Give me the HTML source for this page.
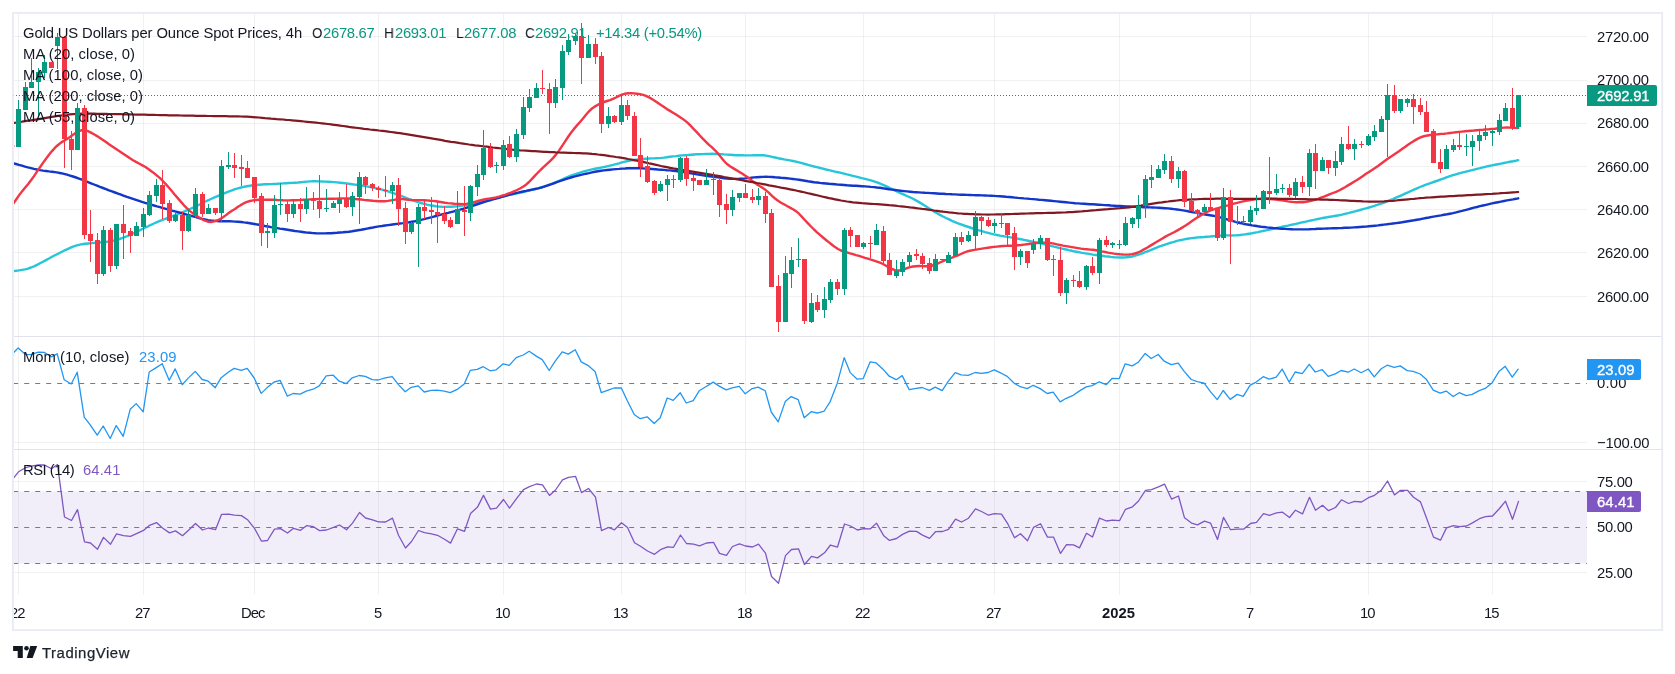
<!DOCTYPE html>
<html><head><meta charset="utf-8"><title>Gold chart</title>
<style>
html,body{margin:0;padding:0;background:#fff;}
body{width:1675px;height:674px;position:relative;overflow:hidden;font-family:"Liberation Sans", sans-serif;}
svg{position:absolute;left:0;top:0;}
.t{position:absolute;white-space:nowrap;line-height:20px;font-family:"Liberation Sans", sans-serif;will-change:transform;}
.clip{position:absolute;left:14px;top:596px;width:1573px;height:32px;overflow:hidden;}
.clip .t{margin-left:-14px;margin-top:-596px;}
.lb{position:absolute;border-radius:0 2px 2px 0;}
</style></head><body>
<svg width="1675" height="674" viewBox="0 0 1675 674">
<defs>
<clipPath id="cpm"><rect x="14" y="14" width="1573" height="322"/></clipPath>
<clipPath id="cp2"><rect x="14" y="337" width="1573" height="112"/></clipPath>
<clipPath id="cp3"><rect x="14" y="450" width="1573" height="144"/></clipPath>
</defs>
<rect x="14" y="36" width="1573" height="1" fill="rgba(42,46,57,0.065)"/>
<rect x="14" y="80" width="1573" height="1" fill="rgba(42,46,57,0.065)"/>
<rect x="14" y="123" width="1573" height="1" fill="rgba(42,46,57,0.065)"/>
<rect x="14" y="166" width="1573" height="1" fill="rgba(42,46,57,0.065)"/>
<rect x="14" y="209" width="1573" height="1" fill="rgba(42,46,57,0.065)"/>
<rect x="14" y="252" width="1573" height="1" fill="rgba(42,46,57,0.065)"/>
<rect x="14" y="296" width="1573" height="1" fill="rgba(42,46,57,0.065)"/>
<rect x="14" y="442" width="1573" height="1" fill="rgba(42,46,57,0.065)"/>
<rect x="14" y="481" width="1573" height="1" fill="rgba(42,46,57,0.065)"/>
<rect x="14" y="572" width="1573" height="1" fill="rgba(42,46,57,0.065)"/>
<rect x="18" y="14" width="1" height="580.5" fill="rgba(42,46,57,0.065)"/>
<rect x="143" y="14" width="1" height="580.5" fill="rgba(42,46,57,0.065)"/>
<rect x="254" y="14" width="1" height="580.5" fill="rgba(42,46,57,0.065)"/>
<rect x="378" y="14" width="1" height="580.5" fill="rgba(42,46,57,0.065)"/>
<rect x="503" y="14" width="1" height="580.5" fill="rgba(42,46,57,0.065)"/>
<rect x="621" y="14" width="1" height="580.5" fill="rgba(42,46,57,0.065)"/>
<rect x="745" y="14" width="1" height="580.5" fill="rgba(42,46,57,0.065)"/>
<rect x="863" y="14" width="1" height="580.5" fill="rgba(42,46,57,0.065)"/>
<rect x="994" y="14" width="1" height="580.5" fill="rgba(42,46,57,0.065)"/>
<rect x="1119" y="14" width="1" height="580.5" fill="rgba(42,46,57,0.065)"/>
<rect x="1250" y="14" width="1" height="580.5" fill="rgba(42,46,57,0.065)"/>
<rect x="1368" y="14" width="1" height="580.5" fill="rgba(42,46,57,0.065)"/>
<rect x="1492" y="14" width="1" height="580.5" fill="rgba(42,46,57,0.065)"/>
<rect x="14" y="491.5" width="1573" height="72" fill="#7e57c2" fill-opacity="0.1"/>
<line x1="14" y1="383.5" x2="1587" y2="383.5" stroke="#787b86" stroke-width="1" stroke-dasharray="5 6" stroke-dashoffset="0.8"/>
<line x1="14" y1="491.5" x2="1587" y2="491.5" stroke="#787b86" stroke-width="1" stroke-dasharray="5 6" stroke-dashoffset="0.8"/>
<line x1="14" y1="527.5" x2="1587" y2="527.5" stroke="#787b86" stroke-width="1" stroke-dasharray="5 6" stroke-dashoffset="0.8"/>
<line x1="14" y1="563.5" x2="1587" y2="563.5" stroke="#787b86" stroke-width="1" stroke-dasharray="5 6" stroke-dashoffset="0.8"/>
<line x1="13" y1="95.5" x2="1587" y2="95.5" stroke="#089981" stroke-width="1" stroke-dasharray="1 2"/>
<g clip-path="url(#cpm)">
<polyline points="13.0,271.1 16.0,270.8 19.0,270.4 22.0,269.9 25.0,269.4 28.0,268.6 31.0,267.5 34.0,266.3 37.0,264.9 40.0,263.3 43.0,261.7 46.0,260.1 49.0,258.5 52.0,256.8 55.0,255.2 58.0,253.7 61.0,252.2 64.0,250.7 67.0,249.3 70.0,247.9 73.0,246.7 76.0,245.7 79.0,244.9 82.0,244.2 85.0,243.8 88.0,243.5 91.0,243.2 94.0,242.9 97.0,242.7 100.0,242.5 103.0,242.2 106.0,241.9 109.0,241.5 112.0,241.0 115.0,240.3 118.0,239.5 121.0,238.5 124.0,237.3 127.0,236.1 130.0,234.8 133.0,233.5 136.0,232.1 139.0,230.6 142.0,229.2 145.0,227.7 148.0,226.3 151.0,224.8 154.0,223.5 157.0,222.2 160.0,220.9 163.0,219.7 166.0,218.6 169.0,217.5 172.0,216.3 175.0,215.2 178.0,214.0 181.0,212.8 184.0,211.6 187.0,210.4 190.0,209.0 193.0,207.7 196.0,206.2 199.0,204.8 202.0,203.3 205.0,201.8 208.0,200.3 211.0,199.0 214.0,197.7 217.0,196.4 220.0,195.2 223.0,193.9 226.0,192.6 229.0,191.4 232.0,190.3 235.0,189.2 238.0,188.3 241.0,187.5 244.0,186.8 247.0,186.2 250.0,185.7 253.0,185.3 256.0,185.0 259.0,184.7 262.0,184.5 265.0,184.3 268.0,184.2 271.0,184.1 274.0,183.9 277.0,183.8 280.0,183.6 283.0,183.4 286.0,183.2 289.0,183.0 292.0,182.9 295.0,182.7 298.0,182.5 301.0,182.2 304.0,181.9 307.0,181.6 310.0,181.4 313.0,181.3 316.0,181.3 319.0,181.4 322.0,181.5 325.0,181.6 328.0,181.7 331.0,181.9 334.0,182.1 337.0,182.4 340.0,182.7 343.0,183.0 346.0,183.4 349.0,183.8 352.0,184.2 355.0,184.6 358.0,185.0 361.0,185.5 364.0,185.9 367.0,186.4 370.0,187.0 373.0,187.6 376.0,188.2 379.0,188.8 382.0,189.6 385.0,190.5 388.0,191.4 391.0,192.4 394.0,193.4 397.0,194.5 400.0,195.6 403.0,196.7 406.0,197.9 409.0,199.1 412.0,200.2 415.0,201.2 418.0,202.1 421.0,203.0 424.0,203.8 427.0,204.6 430.0,205.3 433.0,205.8 436.0,206.3 439.0,206.6 442.0,206.8 445.0,206.9 448.0,206.8 451.0,206.7 454.0,206.5 457.0,206.3 460.0,205.9 463.0,205.6 466.0,205.1 469.0,204.5 472.0,203.9 475.0,203.2 478.0,202.4 481.0,201.6 484.0,200.9 487.0,200.2 490.0,199.6 493.0,198.9 496.0,198.2 499.0,197.4 502.0,196.6 505.0,195.9 508.0,195.2 511.0,194.5 514.0,194.0 517.0,193.4 520.0,192.8 523.0,192.1 526.0,191.4 529.0,190.7 532.0,189.9 535.0,189.1 538.0,188.4 541.0,187.5 544.0,186.6 547.0,185.6 550.0,184.5 553.0,183.3 556.0,182.0 559.0,180.8 562.0,179.5 565.0,178.2 568.0,176.9 571.0,175.7 574.0,174.6 577.0,173.6 580.0,172.6 583.0,171.7 586.0,170.9 589.0,170.1 592.0,169.4 595.0,168.8 598.0,168.2 601.0,167.6 604.0,167.0 607.0,166.3 610.0,165.6 613.0,164.9 616.0,164.1 619.0,163.3 622.0,162.4 625.0,161.7 628.0,161.0 631.0,160.4 634.0,160.0 637.0,159.6 640.0,159.2 643.0,159.0 646.0,158.7 649.0,158.5 652.0,158.4 655.0,158.3 658.0,158.1 661.0,157.9 664.0,157.6 667.0,157.2 670.0,156.8 673.0,156.4 676.0,156.1 679.0,155.7 682.0,155.4 685.0,155.2 688.0,155.0 691.0,154.7 694.0,154.5 697.0,154.3 700.0,154.2 703.0,154.1 706.0,154.0 709.0,153.9 712.0,153.8 715.0,153.9 718.0,154.0 721.0,154.1 724.0,154.4 727.0,154.6 730.0,154.8 733.0,155.0 736.0,155.2 739.0,155.3 742.0,155.3 745.0,155.4 748.0,155.4 751.0,155.4 754.0,155.3 757.0,155.2 760.0,155.2 763.0,155.3 766.0,155.6 769.0,156.1 772.0,156.8 775.0,157.5 778.0,158.2 781.0,158.8 784.0,159.4 787.0,159.9 790.0,160.4 793.0,161.0 796.0,161.6 799.0,162.3 802.0,163.1 805.0,164.0 808.0,164.8 811.0,165.7 814.0,166.5 817.0,167.2 820.0,168.0 823.0,168.7 826.0,169.5 829.0,170.2 832.0,170.9 835.0,171.6 838.0,172.2 841.0,172.9 844.0,173.6 847.0,174.4 850.0,175.1 853.0,175.9 856.0,176.6 859.0,177.4 862.0,178.2 865.0,178.9 868.0,179.7 871.0,180.4 874.0,181.3 877.0,182.4 880.0,183.5 883.0,184.8 886.0,186.2 889.0,187.6 892.0,189.0 895.0,190.5 898.0,191.9 901.0,193.3 904.0,194.6 907.0,196.0 910.0,197.3 913.0,198.8 916.0,200.4 919.0,202.1 922.0,203.9 925.0,205.8 928.0,207.7 931.0,209.6 934.0,211.5 937.0,213.2 940.0,214.9 943.0,216.5 946.0,218.0 949.0,219.4 952.0,220.8 955.0,222.1 958.0,223.3 961.0,224.4 964.0,225.5 967.0,226.5 970.0,227.5 973.0,228.5 976.0,229.4 979.0,230.3 982.0,231.2 985.0,232.1 988.0,232.9 991.0,233.7 994.0,234.4 997.0,235.0 1000.0,235.6 1003.0,236.1 1006.0,236.6 1009.0,237.1 1012.0,237.6 1015.0,238.2 1018.0,238.7 1021.0,239.3 1024.0,239.9 1027.0,240.5 1030.0,241.1 1033.0,241.7 1036.0,242.4 1039.0,243.0 1042.0,243.7 1045.0,244.4 1048.0,245.1 1051.0,245.8 1054.0,246.6 1057.0,247.3 1060.0,248.1 1063.0,248.8 1066.0,249.5 1069.0,250.2 1072.0,250.8 1075.0,251.5 1078.0,252.0 1081.0,252.6 1084.0,253.1 1087.0,253.6 1090.0,254.1 1093.0,254.6 1096.0,255.0 1099.0,255.4 1102.0,255.8 1105.0,256.2 1108.0,256.5 1111.0,256.9 1114.0,257.2 1117.0,257.4 1120.0,257.5 1123.0,257.5 1126.0,257.3 1129.0,257.0 1132.0,256.5 1135.0,255.7 1138.0,254.8 1141.0,253.8 1144.0,252.7 1147.0,251.5 1150.0,250.4 1153.0,249.1 1156.0,247.9 1159.0,246.7 1162.0,245.6 1165.0,244.6 1168.0,243.6 1171.0,242.6 1174.0,241.8 1177.0,240.9 1180.0,240.2 1183.0,239.6 1186.0,239.0 1189.0,238.5 1192.0,238.1 1195.0,237.8 1198.0,237.4 1201.0,237.2 1204.0,237.0 1207.0,236.7 1210.0,236.5 1213.0,236.2 1216.0,235.9 1219.0,235.6 1222.0,235.5 1225.0,235.4 1228.0,235.4 1231.0,235.5 1234.0,235.4 1237.0,235.3 1240.0,235.0 1243.0,234.6 1246.0,234.2 1249.0,233.7 1252.0,233.2 1255.0,232.6 1258.0,232.1 1261.0,231.4 1264.0,230.8 1267.0,230.1 1270.0,229.5 1273.0,228.8 1276.0,228.1 1279.0,227.5 1282.0,226.8 1285.0,226.2 1288.0,225.6 1291.0,224.9 1294.0,224.3 1297.0,223.6 1300.0,222.9 1303.0,222.2 1306.0,221.6 1309.0,220.9 1312.0,220.3 1315.0,219.6 1318.0,219.0 1321.0,218.4 1324.0,217.8 1327.0,217.3 1330.0,216.7 1333.0,216.3 1336.0,215.7 1339.0,215.2 1342.0,214.6 1345.0,213.9 1348.0,213.2 1351.0,212.4 1354.0,211.6 1357.0,210.8 1360.0,210.0 1363.0,209.2 1366.0,208.4 1369.0,207.5 1372.0,206.6 1375.0,205.7 1378.0,204.7 1381.0,203.6 1384.0,202.5 1387.0,201.4 1390.0,200.2 1393.0,199.0 1396.0,197.7 1399.0,196.4 1402.0,195.1 1405.0,193.7 1408.0,192.4 1411.0,191.0 1414.0,189.6 1417.0,188.3 1420.0,187.0 1423.0,185.8 1426.0,184.7 1429.0,183.7 1432.0,182.6 1435.0,181.5 1438.0,180.5 1441.0,179.4 1444.0,178.3 1447.0,177.2 1450.0,176.2 1453.0,175.2 1456.0,174.3 1459.0,173.4 1462.0,172.6 1465.0,171.9 1468.0,171.1 1471.0,170.3 1474.0,169.6 1477.0,168.8 1480.0,168.1 1483.0,167.3 1486.0,166.6 1489.0,166.0 1492.0,165.4 1495.0,164.8 1498.0,164.2 1501.0,163.6 1504.0,163.0 1507.0,162.4 1510.0,161.8 1513.0,161.3 1516.0,160.7 1518.2,160.2" fill="none" stroke="#26c6da" stroke-width="2.4" stroke-linejoin="round" stroke-linecap="round"/>
<polyline points="13.0,163.1 16.0,164.0 19.0,164.9 22.0,165.7 25.0,166.6 28.0,167.4 31.0,168.1 34.0,168.9 37.0,169.5 40.0,170.1 43.0,170.6 46.0,171.0 49.0,171.4 52.0,171.7 55.0,172.1 58.0,172.6 61.0,173.2 64.0,173.9 67.0,174.7 70.0,175.6 73.0,176.5 76.0,177.5 79.0,178.6 82.0,179.7 85.0,180.9 88.0,182.1 91.0,183.3 94.0,184.5 97.0,185.7 100.0,186.9 103.0,188.0 106.0,189.1 109.0,190.3 112.0,191.4 115.0,192.5 118.0,193.6 121.0,194.7 124.0,195.8 127.0,196.9 130.0,197.9 133.0,198.9 136.0,199.9 139.0,200.9 142.0,201.9 145.0,202.8 148.0,203.7 151.0,204.6 154.0,205.5 157.0,206.4 160.0,207.2 163.0,208.1 166.0,208.9 169.0,209.7 172.0,210.6 175.0,211.4 178.0,212.2 181.0,213.0 184.0,213.8 187.0,214.7 190.0,215.5 193.0,216.4 196.0,217.2 199.0,218.1 202.0,218.9 205.0,219.5 208.0,220.1 211.0,220.5 214.0,220.8 217.0,221.0 220.0,221.2 223.0,221.2 226.0,221.3 229.0,221.3 232.0,221.4 235.0,221.6 238.0,221.8 241.0,222.0 244.0,222.4 247.0,222.7 250.0,223.2 253.0,223.7 256.0,224.3 259.0,224.8 262.0,225.4 265.0,226.0 268.0,226.5 271.0,227.1 274.0,227.6 277.0,228.1 280.0,228.6 283.0,229.0 286.0,229.5 289.0,230.0 292.0,230.5 295.0,231.0 298.0,231.4 301.0,231.8 304.0,232.2 307.0,232.6 310.0,232.8 313.0,233.1 316.0,233.3 319.0,233.4 322.0,233.4 325.0,233.4 328.0,233.3 331.0,233.2 334.0,233.0 337.0,232.8 340.0,232.5 343.0,232.3 346.0,232.0 349.0,231.7 352.0,231.3 355.0,230.8 358.0,230.3 361.0,229.8 364.0,229.2 367.0,228.6 370.0,228.0 373.0,227.5 376.0,226.9 379.0,226.4 382.0,226.0 385.0,225.5 388.0,225.1 391.0,224.7 394.0,224.3 397.0,223.9 400.0,223.5 403.0,223.1 406.0,222.6 409.0,222.2 412.0,221.7 415.0,221.2 418.0,220.6 421.0,219.9 424.0,219.2 427.0,218.4 430.0,217.6 433.0,216.8 436.0,216.0 439.0,215.2 442.0,214.4 445.0,213.6 448.0,212.9 451.0,212.1 454.0,211.3 457.0,210.5 460.0,209.7 463.0,208.8 466.0,207.9 469.0,207.0 472.0,206.0 475.0,205.0 478.0,204.0 481.0,203.0 484.0,202.1 487.0,201.2 490.0,200.3 493.0,199.4 496.0,198.6 499.0,197.8 502.0,196.9 505.0,196.1 508.0,195.2 511.0,194.4 514.0,193.6 517.0,192.9 520.0,192.2 523.0,191.5 526.0,190.9 529.0,190.2 532.0,189.6 535.0,189.0 538.0,188.4 541.0,187.6 544.0,186.7 547.0,185.7 550.0,184.7 553.0,183.6 556.0,182.5 559.0,181.3 562.0,180.3 565.0,179.3 568.0,178.4 571.0,177.5 574.0,176.7 577.0,175.9 580.0,175.1 583.0,174.4 586.0,173.7 589.0,173.1 592.0,172.4 595.0,171.8 598.0,171.3 601.0,170.8 604.0,170.4 607.0,170.0 610.0,169.7 613.0,169.4 616.0,169.1 619.0,168.9 622.0,168.6 625.0,168.5 628.0,168.3 631.0,168.2 634.0,168.2 637.0,168.2 640.0,168.3 643.0,168.4 646.0,168.6 649.0,168.8 652.0,169.0 655.0,169.2 658.0,169.5 661.0,169.7 664.0,169.9 667.0,170.2 670.0,170.4 673.0,170.7 676.0,171.1 679.0,171.5 682.0,171.9 685.0,172.4 688.0,172.9 691.0,173.4 694.0,173.9 697.0,174.4 700.0,174.9 703.0,175.4 706.0,175.8 709.0,176.2 712.0,176.6 715.0,177.0 718.0,177.4 721.0,177.8 724.0,178.2 727.0,178.6 730.0,178.8 733.0,178.9 736.0,178.9 739.0,178.8 742.0,178.6 745.0,178.4 748.0,178.1 751.0,177.8 754.0,177.4 757.0,177.2 760.0,177.0 763.0,176.9 766.0,176.8 769.0,176.9 772.0,177.0 775.0,177.3 778.0,177.5 781.0,177.8 784.0,178.0 787.0,178.3 790.0,178.6 793.0,179.0 796.0,179.4 799.0,179.8 802.0,180.3 805.0,180.8 808.0,181.3 811.0,181.7 814.0,182.2 817.0,182.5 820.0,182.9 823.0,183.2 826.0,183.5 829.0,183.8 832.0,184.0 835.0,184.3 838.0,184.6 841.0,184.8 844.0,185.0 847.0,185.3 850.0,185.5 853.0,185.7 856.0,185.8 859.0,186.0 862.0,186.2 865.0,186.4 868.0,186.6 871.0,186.9 874.0,187.1 877.0,187.5 880.0,187.8 883.0,188.3 886.0,188.7 889.0,189.2 892.0,189.6 895.0,190.0 898.0,190.4 901.0,190.8 904.0,191.1 907.0,191.4 910.0,191.7 913.0,192.0 916.0,192.2 919.0,192.4 922.0,192.6 925.0,192.8 928.0,192.9 931.0,193.1 934.0,193.3 937.0,193.5 940.0,193.7 943.0,193.8 946.0,194.0 949.0,194.1 952.0,194.3 955.0,194.4 958.0,194.6 961.0,194.7 964.0,194.8 967.0,194.9 970.0,195.0 973.0,195.1 976.0,195.2 979.0,195.3 982.0,195.4 985.0,195.5 988.0,195.6 991.0,195.7 994.0,195.9 997.0,196.1 1000.0,196.3 1003.0,196.5 1006.0,196.8 1009.0,197.0 1012.0,197.3 1015.0,197.6 1018.0,197.9 1021.0,198.1 1024.0,198.4 1027.0,198.6 1030.0,198.9 1033.0,199.1 1036.0,199.4 1039.0,199.7 1042.0,199.9 1045.0,200.2 1048.0,200.5 1051.0,200.8 1054.0,201.1 1057.0,201.4 1060.0,201.7 1063.0,202.0 1066.0,202.3 1069.0,202.6 1072.0,202.9 1075.0,203.2 1078.0,203.4 1081.0,203.6 1084.0,203.8 1087.0,204.0 1090.0,204.2 1093.0,204.3 1096.0,204.5 1099.0,204.7 1102.0,204.9 1105.0,205.1 1108.0,205.2 1111.0,205.5 1114.0,205.7 1117.0,205.9 1120.0,206.0 1123.0,206.2 1126.0,206.4 1129.0,206.5 1132.0,206.7 1135.0,206.8 1138.0,207.0 1141.0,207.1 1144.0,207.2 1147.0,207.3 1150.0,207.4 1153.0,207.5 1156.0,207.6 1159.0,207.8 1162.0,208.0 1165.0,208.2 1168.0,208.4 1171.0,208.7 1174.0,209.1 1177.0,209.5 1180.0,209.9 1183.0,210.4 1186.0,210.9 1189.0,211.5 1192.0,212.1 1195.0,212.6 1198.0,213.1 1201.0,213.7 1204.0,214.2 1207.0,214.7 1210.0,215.2 1213.0,215.7 1216.0,216.4 1219.0,217.1 1222.0,217.9 1225.0,218.8 1228.0,219.7 1231.0,220.6 1234.0,221.4 1237.0,222.3 1240.0,223.0 1243.0,223.7 1246.0,224.3 1249.0,224.8 1252.0,225.4 1255.0,225.8 1258.0,226.3 1261.0,226.7 1264.0,227.0 1267.0,227.4 1270.0,227.7 1273.0,228.0 1276.0,228.2 1279.0,228.5 1282.0,228.7 1285.0,228.9 1288.0,229.1 1291.0,229.2 1294.0,229.4 1297.0,229.4 1300.0,229.4 1303.0,229.4 1306.0,229.4 1309.0,229.3 1312.0,229.1 1315.0,229.0 1318.0,228.8 1321.0,228.7 1324.0,228.6 1327.0,228.5 1330.0,228.4 1333.0,228.3 1336.0,228.2 1339.0,228.1 1342.0,228.0 1345.0,227.8 1348.0,227.7 1351.0,227.6 1354.0,227.4 1357.0,227.2 1360.0,227.0 1363.0,226.8 1366.0,226.6 1369.0,226.3 1372.0,226.0 1375.0,225.7 1378.0,225.4 1381.0,225.0 1384.0,224.6 1387.0,224.3 1390.0,223.9 1393.0,223.5 1396.0,223.1 1399.0,222.7 1402.0,222.3 1405.0,221.8 1408.0,221.3 1411.0,220.8 1414.0,220.3 1417.0,219.7 1420.0,219.2 1423.0,218.6 1426.0,218.0 1429.0,217.5 1432.0,216.9 1435.0,216.4 1438.0,215.9 1441.0,215.4 1444.0,214.8 1447.0,214.3 1450.0,213.7 1453.0,213.1 1456.0,212.4 1459.0,211.6 1462.0,210.9 1465.0,210.1 1468.0,209.3 1471.0,208.5 1474.0,207.7 1477.0,207.0 1480.0,206.2 1483.0,205.5 1486.0,204.8 1489.0,204.1 1492.0,203.4 1495.0,202.8 1498.0,202.2 1501.0,201.6 1504.0,201.0 1507.0,200.4 1510.0,199.9 1513.0,199.4 1516.0,198.8 1518.2,198.3" fill="none" stroke="#1237c9" stroke-width="2.4" stroke-linejoin="round" stroke-linecap="round"/>
<polyline points="13.0,204.1 16.0,199.8 19.0,195.4 22.0,191.4 25.0,187.7 28.0,184.2 31.0,180.3 34.0,176.1 37.0,171.6 40.0,167.2 43.0,162.9 46.0,158.7 49.0,154.7 52.0,151.1 55.0,147.7 58.0,145.0 61.0,142.6 64.0,140.8 67.0,138.9 70.0,136.9 73.0,134.8 76.0,132.7 79.0,131.1 82.0,130.1 85.0,130.2 88.0,131.1 91.0,132.6 94.0,134.3 97.0,136.1 100.0,138.0 103.0,140.0 106.0,142.1 109.0,144.2 112.0,146.2 115.0,148.2 118.0,150.2 121.0,152.2 124.0,154.2 127.0,156.2 130.0,158.3 133.0,160.2 136.0,161.9 139.0,163.5 142.0,165.1 145.0,166.8 148.0,168.8 151.0,170.9 154.0,173.1 157.0,175.6 160.0,178.2 163.0,181.2 166.0,184.4 169.0,187.8 172.0,191.3 175.0,194.9 178.0,198.4 181.0,201.9 184.0,205.3 187.0,208.4 190.0,211.1 193.0,213.4 196.0,215.5 199.0,217.4 202.0,219.1 205.0,220.7 208.0,221.7 211.0,222.0 214.0,221.4 217.0,220.5 220.0,219.2 223.0,217.3 226.0,215.1 229.0,212.8 232.0,210.8 235.0,208.9 238.0,206.8 241.0,204.9 244.0,203.2 247.0,201.9 250.0,201.0 253.0,200.4 256.0,200.0 259.0,199.8 262.0,199.7 265.0,199.7 268.0,199.7 271.0,199.8 274.0,199.8 277.0,200.0 280.0,200.1 283.0,200.3 286.0,200.4 289.0,200.4 292.0,200.3 295.0,200.2 298.0,200.1 301.0,200.0 304.0,199.8 307.0,199.6 310.0,199.4 313.0,199.2 316.0,199.1 319.0,199.0 322.0,198.9 325.0,198.9 328.0,198.8 331.0,198.8 334.0,198.7 337.0,198.6 340.0,198.5 343.0,198.4 346.0,198.4 349.0,198.5 352.0,198.7 355.0,199.0 358.0,199.2 361.0,199.5 364.0,199.9 367.0,200.2 370.0,200.5 373.0,200.8 376.0,201.0 379.0,201.2 382.0,201.3 385.0,201.2 388.0,200.9 391.0,200.4 394.0,199.9 397.0,199.3 400.0,199.0 403.0,199.1 406.0,199.5 409.0,199.8 412.0,200.0 415.0,200.1 418.0,200.1 421.0,200.1 424.0,200.2 427.0,200.4 430.0,200.7 433.0,200.9 436.0,201.3 439.0,201.7 442.0,202.2 445.0,202.7 448.0,203.1 451.0,203.4 454.0,203.7 457.0,203.9 460.0,204.0 463.0,204.1 466.0,203.9 469.0,203.5 472.0,202.7 475.0,201.8 478.0,201.0 481.0,200.2 484.0,199.5 487.0,198.9 490.0,198.5 493.0,198.0 496.0,197.4 499.0,196.6 502.0,195.7 505.0,194.8 508.0,193.7 511.0,192.6 514.0,191.3 517.0,190.0 520.0,188.5 523.0,186.8 526.0,184.7 529.0,182.0 532.0,178.9 535.0,175.6 538.0,172.5 541.0,169.5 544.0,166.7 547.0,163.9 550.0,161.1 553.0,158.1 556.0,154.6 559.0,150.6 562.0,146.1 565.0,141.6 568.0,137.0 571.0,132.8 574.0,128.9 577.0,125.4 580.0,122.0 583.0,118.4 586.0,114.7 589.0,111.3 592.0,108.5 595.0,106.4 598.0,104.7 601.0,103.3 604.0,102.0 607.0,101.0 610.0,100.1 613.0,98.9 616.0,97.5 619.0,95.9 622.0,94.6 625.0,93.7 628.0,93.3 631.0,93.3 634.0,93.4 637.0,93.7 640.0,94.1 643.0,94.8 646.0,95.9 649.0,97.3 652.0,99.1 655.0,101.0 658.0,103.0 661.0,105.1 664.0,107.1 667.0,109.1 670.0,110.9 673.0,112.7 676.0,114.6 679.0,116.5 682.0,118.4 685.0,120.6 688.0,123.2 691.0,126.2 694.0,129.3 697.0,132.4 700.0,135.7 703.0,138.9 706.0,141.9 709.0,144.8 712.0,147.4 715.0,150.3 718.0,153.6 721.0,157.3 724.0,161.0 727.0,164.0 730.0,166.3 733.0,168.1 736.0,169.9 739.0,171.7 742.0,173.5 745.0,175.4 748.0,177.5 751.0,179.9 754.0,182.2 757.0,184.4 760.0,186.3 763.0,188.1 766.0,190.3 769.0,192.8 772.0,195.8 775.0,198.5 778.0,200.8 781.0,202.7 784.0,204.3 787.0,206.0 790.0,207.6 793.0,209.2 796.0,211.2 799.0,213.7 802.0,216.9 805.0,220.2 808.0,223.4 811.0,226.5 814.0,229.5 817.0,232.3 820.0,234.9 823.0,237.5 826.0,240.0 829.0,242.4 832.0,244.8 835.0,247.1 838.0,249.0 841.0,250.5 844.0,251.5 847.0,252.4 850.0,253.4 853.0,254.2 856.0,255.1 859.0,255.9 862.0,256.8 865.0,257.8 868.0,258.7 871.0,259.7 874.0,260.6 877.0,261.6 880.0,262.7 883.0,264.0 886.0,265.7 889.0,267.4 892.0,269.0 895.0,270.1 898.0,270.5 901.0,270.2 904.0,269.3 907.0,268.2 910.0,267.2 913.0,266.5 916.0,266.2 919.0,266.0 922.0,266.1 925.0,266.3 928.0,266.3 931.0,266.0 934.0,265.0 937.0,263.9 940.0,262.5 943.0,261.2 946.0,260.0 949.0,258.8 952.0,257.7 955.0,256.5 958.0,255.3 961.0,254.0 964.0,252.7 967.0,251.5 970.0,250.7 973.0,250.1 976.0,249.6 979.0,249.1 982.0,248.6 985.0,248.1 988.0,247.7 991.0,247.3 994.0,246.9 997.0,246.6 1000.0,246.3 1003.0,246.0 1006.0,245.9 1009.0,245.8 1012.0,245.7 1015.0,245.6 1018.0,245.3 1021.0,245.0 1024.0,244.6 1027.0,244.2 1030.0,243.8 1033.0,243.4 1036.0,243.0 1039.0,242.7 1042.0,242.6 1045.0,242.6 1048.0,242.7 1051.0,243.1 1054.0,243.6 1057.0,244.4 1060.0,245.0 1063.0,245.6 1066.0,246.1 1069.0,246.6 1072.0,247.1 1075.0,247.6 1078.0,248.1 1081.0,248.6 1084.0,249.0 1087.0,249.3 1090.0,249.6 1093.0,249.8 1096.0,250.2 1099.0,250.7 1102.0,251.4 1105.0,252.0 1108.0,252.6 1111.0,253.1 1114.0,253.6 1117.0,254.0 1120.0,254.3 1123.0,254.5 1126.0,254.6 1129.0,254.5 1132.0,254.1 1135.0,253.5 1138.0,252.5 1141.0,251.1 1144.0,249.4 1147.0,247.7 1150.0,245.9 1153.0,244.1 1156.0,242.3 1159.0,240.5 1162.0,238.7 1165.0,236.9 1168.0,235.3 1171.0,233.7 1174.0,232.2 1177.0,230.6 1180.0,228.9 1183.0,227.1 1186.0,225.2 1189.0,223.2 1192.0,221.1 1195.0,219.1 1198.0,217.1 1201.0,215.3 1204.0,213.5 1207.0,212.0 1210.0,210.7 1213.0,209.7 1216.0,208.7 1219.0,207.8 1222.0,207.0 1225.0,206.1 1228.0,205.3 1231.0,204.4 1234.0,203.6 1237.0,202.8 1240.0,202.1 1243.0,201.4 1246.0,200.8 1249.0,200.3 1252.0,199.8 1255.0,199.4 1258.0,199.1 1261.0,198.9 1264.0,198.8 1267.0,198.8 1270.0,199.0 1273.0,199.3 1276.0,199.6 1279.0,200.0 1282.0,200.4 1285.0,200.9 1288.0,201.4 1291.0,201.8 1294.0,202.1 1297.0,202.3 1300.0,202.3 1303.0,202.2 1306.0,201.8 1309.0,201.3 1312.0,200.6 1315.0,199.8 1318.0,198.8 1321.0,197.7 1324.0,196.6 1327.0,195.4 1330.0,194.2 1333.0,193.0 1336.0,191.8 1339.0,190.5 1342.0,188.9 1345.0,187.2 1348.0,185.4 1351.0,183.6 1354.0,181.8 1357.0,180.0 1360.0,178.0 1363.0,175.9 1366.0,173.8 1369.0,171.9 1372.0,170.0 1375.0,168.1 1378.0,166.0 1381.0,163.7 1384.0,161.5 1387.0,159.3 1390.0,157.2 1393.0,155.2 1396.0,153.2 1399.0,151.2 1402.0,149.0 1405.0,146.9 1408.0,144.8 1411.0,142.8 1414.0,140.9 1417.0,139.1 1420.0,137.6 1423.0,136.5 1426.0,135.7 1429.0,135.2 1432.0,134.8 1435.0,134.4 1438.0,134.2 1441.0,133.9 1444.0,133.7 1447.0,133.4 1450.0,133.0 1453.0,132.6 1456.0,132.2 1459.0,131.9 1462.0,131.6 1465.0,131.3 1468.0,131.0 1471.0,130.7 1474.0,130.5 1477.0,130.2 1480.0,129.9 1483.0,129.7 1486.0,129.4 1489.0,129.2 1492.0,128.9 1495.0,128.7 1498.0,128.3 1501.0,127.9 1504.0,127.6 1507.0,127.5 1510.0,127.6 1513.0,127.8 1516.0,127.9 1518.2,128.1" fill="none" stroke="#f23645" stroke-width="2.4" stroke-linejoin="round" stroke-linecap="round"/>
<polyline points="13.0,123.0 16.0,122.6 19.0,122.1 22.0,121.7 25.0,121.2 28.0,120.7 31.0,120.3 34.0,119.8 37.0,119.3 40.0,118.8 43.0,118.3 46.0,117.8 49.0,117.3 52.0,116.8 55.0,116.4 58.0,115.9 61.0,115.5 64.0,115.1 67.0,114.7 70.0,114.4 73.0,114.2 76.0,114.0 79.0,113.8 82.0,113.7 85.0,113.7 88.0,113.7 91.0,113.7 94.0,113.7 97.0,113.8 100.0,113.8 103.0,113.9 106.0,113.9 109.0,114.0 112.0,114.0 115.0,114.1 118.0,114.2 121.0,114.2 124.0,114.3 127.0,114.4 130.0,114.4 133.0,114.5 136.0,114.6 139.0,114.6 142.0,114.7 145.0,114.7 148.0,114.8 151.0,114.9 154.0,114.9 157.0,115.0 160.0,115.1 163.0,115.1 166.0,115.2 169.0,115.3 172.0,115.3 175.0,115.4 178.0,115.4 181.0,115.5 184.0,115.6 187.0,115.6 190.0,115.7 193.0,115.7 196.0,115.8 199.0,115.8 202.0,115.9 205.0,115.9 208.0,116.0 211.0,116.0 214.0,116.1 217.0,116.1 220.0,116.1 223.0,116.2 226.0,116.2 229.0,116.3 232.0,116.3 235.0,116.4 238.0,116.4 241.0,116.5 244.0,116.6 247.0,116.7 250.0,116.9 253.0,117.1 256.0,117.3 259.0,117.5 262.0,117.8 265.0,118.1 268.0,118.3 271.0,118.6 274.0,118.8 277.0,119.1 280.0,119.3 283.0,119.5 286.0,119.8 289.0,120.0 292.0,120.3 295.0,120.6 298.0,120.9 301.0,121.2 304.0,121.5 307.0,121.8 310.0,122.1 313.0,122.4 316.0,122.7 319.0,123.0 322.0,123.3 325.0,123.7 328.0,124.0 331.0,124.4 334.0,124.8 337.0,125.2 340.0,125.6 343.0,126.0 346.0,126.4 349.0,126.9 352.0,127.3 355.0,127.7 358.0,128.0 361.0,128.4 364.0,128.8 367.0,129.1 370.0,129.5 373.0,129.8 376.0,130.1 379.0,130.5 382.0,130.8 385.0,131.2 388.0,131.6 391.0,132.0 394.0,132.4 397.0,132.8 400.0,133.2 403.0,133.7 406.0,134.1 409.0,134.6 412.0,135.1 415.0,135.6 418.0,136.1 421.0,136.6 424.0,137.1 427.0,137.6 430.0,138.1 433.0,138.7 436.0,139.2 439.0,139.7 442.0,140.2 445.0,140.8 448.0,141.3 451.0,141.8 454.0,142.2 457.0,142.7 460.0,143.2 463.0,143.6 466.0,144.0 469.0,144.5 472.0,144.9 475.0,145.3 478.0,145.6 481.0,146.0 484.0,146.4 487.0,146.7 490.0,147.1 493.0,147.5 496.0,147.8 499.0,148.2 502.0,148.5 505.0,148.8 508.0,149.2 511.0,149.5 514.0,149.8 517.0,150.0 520.0,150.3 523.0,150.5 526.0,150.7 529.0,150.9 532.0,151.1 535.0,151.2 538.0,151.4 541.0,151.6 544.0,151.8 547.0,151.9 550.0,152.1 553.0,152.2 556.0,152.4 559.0,152.5 562.0,152.6 565.0,152.7 568.0,152.8 571.0,152.9 574.0,153.0 577.0,153.1 580.0,153.2 583.0,153.3 586.0,153.4 589.0,153.6 592.0,153.9 595.0,154.1 598.0,154.5 601.0,154.8 604.0,155.2 607.0,155.6 610.0,156.1 613.0,156.5 616.0,157.0 619.0,157.4 622.0,157.9 625.0,158.4 628.0,159.0 631.0,159.5 634.0,160.1 637.0,160.7 640.0,161.3 643.0,161.9 646.0,162.6 649.0,163.3 652.0,163.9 655.0,164.6 658.0,165.3 661.0,166.0 664.0,166.6 667.0,167.2 670.0,167.8 673.0,168.4 676.0,168.9 679.0,169.4 682.0,169.9 685.0,170.3 688.0,170.8 691.0,171.3 694.0,171.8 697.0,172.3 700.0,172.8 703.0,173.3 706.0,173.8 709.0,174.3 712.0,174.8 715.0,175.4 718.0,175.9 721.0,176.4 724.0,177.0 727.0,177.5 730.0,178.0 733.0,178.6 736.0,179.1 739.0,179.7 742.0,180.2 745.0,180.8 748.0,181.3 751.0,181.9 754.0,182.4 757.0,183.0 760.0,183.5 763.0,184.1 766.0,184.7 769.0,185.3 772.0,185.8 775.0,186.4 778.0,187.0 781.0,187.6 784.0,188.1 787.0,188.7 790.0,189.3 793.0,189.9 796.0,190.5 799.0,191.2 802.0,191.8 805.0,192.5 808.0,193.2 811.0,193.9 814.0,194.6 817.0,195.3 820.0,196.0 823.0,196.7 826.0,197.4 829.0,198.1 832.0,198.7 835.0,199.3 838.0,199.9 841.0,200.5 844.0,201.0 847.0,201.5 850.0,201.9 853.0,202.3 856.0,202.6 859.0,202.9 862.0,203.2 865.0,203.4 868.0,203.6 871.0,203.8 874.0,204.0 877.0,204.2 880.0,204.4 883.0,204.6 886.0,204.8 889.0,205.1 892.0,205.3 895.0,205.6 898.0,206.0 901.0,206.3 904.0,206.6 907.0,207.0 910.0,207.4 913.0,207.7 916.0,208.1 919.0,208.5 922.0,208.9 925.0,209.2 928.0,209.6 931.0,210.0 934.0,210.5 937.0,210.9 940.0,211.3 943.0,211.7 946.0,212.0 949.0,212.4 952.0,212.7 955.0,213.0 958.0,213.3 961.0,213.5 964.0,213.8 967.0,213.9 970.0,214.1 973.0,214.2 976.0,214.4 979.0,214.4 982.0,214.5 985.0,214.5 988.0,214.6 991.0,214.5 994.0,214.5 997.0,214.4 1000.0,214.4 1003.0,214.3 1006.0,214.2 1009.0,214.1 1012.0,214.0 1015.0,213.9 1018.0,213.8 1021.0,213.7 1024.0,213.6 1027.0,213.5 1030.0,213.4 1033.0,213.3 1036.0,213.2 1039.0,213.2 1042.0,213.1 1045.0,213.0 1048.0,212.9 1051.0,212.9 1054.0,212.8 1057.0,212.7 1060.0,212.6 1063.0,212.5 1066.0,212.4 1069.0,212.2 1072.0,212.1 1075.0,211.9 1078.0,211.7 1081.0,211.5 1084.0,211.2 1087.0,211.0 1090.0,210.7 1093.0,210.4 1096.0,210.2 1099.0,209.9 1102.0,209.6 1105.0,209.3 1108.0,209.1 1111.0,208.8 1114.0,208.6 1117.0,208.3 1120.0,208.1 1123.0,207.8 1126.0,207.6 1129.0,207.3 1132.0,206.9 1135.0,206.5 1138.0,206.1 1141.0,205.7 1144.0,205.2 1147.0,204.7 1150.0,204.2 1153.0,203.7 1156.0,203.2 1159.0,202.7 1162.0,202.3 1165.0,201.8 1168.0,201.5 1171.0,201.1 1174.0,200.8 1177.0,200.5 1180.0,200.2 1183.0,200.0 1186.0,199.8 1189.0,199.6 1192.0,199.4 1195.0,199.3 1198.0,199.2 1201.0,199.0 1204.0,198.9 1207.0,198.9 1210.0,198.8 1213.0,198.8 1216.0,198.7 1219.0,198.7 1222.0,198.7 1225.0,198.8 1228.0,198.8 1231.0,198.8 1234.0,198.9 1237.0,198.9 1240.0,198.9 1243.0,198.9 1246.0,198.9 1249.0,198.9 1252.0,198.9 1255.0,198.8 1258.0,198.8 1261.0,198.8 1264.0,198.7 1267.0,198.7 1270.0,198.7 1273.0,198.7 1276.0,198.7 1279.0,198.8 1282.0,198.8 1285.0,198.8 1288.0,198.9 1291.0,198.9 1294.0,199.0 1297.0,199.0 1300.0,199.1 1303.0,199.2 1306.0,199.2 1309.0,199.3 1312.0,199.3 1315.0,199.4 1318.0,199.5 1321.0,199.6 1324.0,199.6 1327.0,199.7 1330.0,199.8 1333.0,199.9 1336.0,200.0 1339.0,200.2 1342.0,200.3 1345.0,200.4 1348.0,200.6 1351.0,200.8 1354.0,200.9 1357.0,201.1 1360.0,201.2 1363.0,201.4 1366.0,201.5 1369.0,201.6 1372.0,201.6 1375.0,201.6 1378.0,201.6 1381.0,201.5 1384.0,201.4 1387.0,201.2 1390.0,201.0 1393.0,200.8 1396.0,200.5 1399.0,200.2 1402.0,199.9 1405.0,199.6 1408.0,199.3 1411.0,199.0 1414.0,198.8 1417.0,198.5 1420.0,198.2 1423.0,198.0 1426.0,197.7 1429.0,197.5 1432.0,197.3 1435.0,197.1 1438.0,196.9 1441.0,196.7 1444.0,196.6 1447.0,196.4 1450.0,196.2 1453.0,196.1 1456.0,195.9 1459.0,195.7 1462.0,195.6 1465.0,195.4 1468.0,195.2 1471.0,195.1 1474.0,194.9 1477.0,194.7 1480.0,194.6 1483.0,194.4 1486.0,194.2 1489.0,194.0 1492.0,193.9 1495.0,193.7 1498.0,193.5 1501.0,193.2 1504.0,193.0 1507.0,192.8 1510.0,192.6 1513.0,192.4 1516.0,192.2 1518.2,192.0" fill="none" stroke="#801922" stroke-width="2.2" stroke-linejoin="round" stroke-linecap="round"/>
<rect x="9" y="145" width="5.4" height="2" fill="#f23645"/>
<rect x="18" y="100" width="1" height="47" fill="#089981"/>
<rect x="16" y="109" width="5" height="38" fill="#089981"/>
<rect x="25" y="82" width="1" height="28" fill="#089981"/>
<rect x="23" y="87" width="5" height="23" fill="#089981"/>
<rect x="31" y="58" width="1" height="30" fill="#089981"/>
<rect x="29" y="82" width="5" height="6" fill="#089981"/>
<rect x="38" y="68" width="1" height="48" fill="#089981"/>
<rect x="36" y="72" width="5" height="10" fill="#089981"/>
<rect x="44" y="55" width="1" height="23" fill="#089981"/>
<rect x="42" y="62" width="5" height="11" fill="#089981"/>
<rect x="51" y="62" width="1" height="6" fill="#f23645"/>
<rect x="49" y="62" width="5" height="6" fill="#f23645"/>
<rect x="57" y="33" width="1" height="36" fill="#089981"/>
<rect x="55" y="37" width="5" height="9" fill="#089981"/>
<rect x="64" y="36" width="1" height="132" fill="#f23645"/>
<rect x="62" y="37" width="5" height="102" fill="#f23645"/>
<rect x="71" y="131" width="1" height="39" fill="#f23645"/>
<rect x="69" y="139" width="5" height="11" fill="#f23645"/>
<rect x="77" y="103" width="1" height="47" fill="#089981"/>
<rect x="75" y="108" width="5" height="42" fill="#089981"/>
<rect x="84" y="105" width="1" height="134" fill="#f23645"/>
<rect x="82" y="108" width="5" height="127" fill="#f23645"/>
<rect x="90" y="210" width="1" height="52" fill="#f23645"/>
<rect x="88" y="234" width="5" height="7" fill="#f23645"/>
<rect x="97" y="233" width="1" height="51" fill="#f23645"/>
<rect x="95" y="240" width="5" height="34" fill="#f23645"/>
<rect x="103" y="226" width="1" height="50" fill="#089981"/>
<rect x="101" y="230" width="5" height="44" fill="#089981"/>
<rect x="110" y="228" width="1" height="44" fill="#f23645"/>
<rect x="108" y="230" width="5" height="36" fill="#f23645"/>
<rect x="116" y="224" width="1" height="45" fill="#089981"/>
<rect x="114" y="224" width="5" height="42" fill="#089981"/>
<rect x="123" y="205" width="1" height="54" fill="#f23645"/>
<rect x="121" y="224" width="5" height="9" fill="#f23645"/>
<rect x="130" y="228" width="1" height="25" fill="#f23645"/>
<rect x="128" y="231" width="5" height="5" fill="#f23645"/>
<rect x="136" y="222" width="1" height="14" fill="#089981"/>
<rect x="134" y="226" width="5" height="10" fill="#089981"/>
<rect x="143" y="208" width="1" height="29" fill="#089981"/>
<rect x="141" y="214" width="5" height="13" fill="#089981"/>
<rect x="149" y="191" width="1" height="25" fill="#089981"/>
<rect x="147" y="195" width="5" height="20" fill="#089981"/>
<rect x="156" y="179" width="1" height="23" fill="#089981"/>
<rect x="154" y="185" width="5" height="11" fill="#089981"/>
<rect x="162" y="170" width="1" height="49" fill="#f23645"/>
<rect x="160" y="185" width="5" height="19" fill="#f23645"/>
<rect x="169" y="200" width="1" height="23" fill="#f23645"/>
<rect x="167" y="203" width="5" height="18" fill="#f23645"/>
<rect x="175" y="212" width="1" height="10" fill="#089981"/>
<rect x="173" y="215" width="5" height="6" fill="#089981"/>
<rect x="182" y="212" width="1" height="38" fill="#f23645"/>
<rect x="180" y="215" width="5" height="16" fill="#f23645"/>
<rect x="188" y="209" width="1" height="23" fill="#089981"/>
<rect x="186" y="215" width="5" height="16" fill="#089981"/>
<rect x="195" y="188" width="1" height="30" fill="#089981"/>
<rect x="193" y="194" width="5" height="22" fill="#089981"/>
<rect x="202" y="192" width="1" height="25" fill="#f23645"/>
<rect x="200" y="194" width="5" height="20" fill="#f23645"/>
<rect x="208" y="204" width="1" height="10" fill="#089981"/>
<rect x="206" y="208" width="5" height="6" fill="#089981"/>
<rect x="215" y="208" width="1" height="7" fill="#f23645"/>
<rect x="213" y="208" width="5" height="5" fill="#f23645"/>
<rect x="221" y="160" width="1" height="62" fill="#089981"/>
<rect x="219" y="166" width="5" height="47" fill="#089981"/>
<rect x="228" y="152" width="1" height="17" fill="#089981"/>
<rect x="226" y="165" width="5" height="2" fill="#089981"/>
<rect x="234" y="153" width="1" height="25" fill="#f23645"/>
<rect x="232" y="165" width="5" height="3" fill="#f23645"/>
<rect x="241" y="155" width="1" height="31" fill="#f23645"/>
<rect x="239" y="167" width="5" height="2" fill="#f23645"/>
<rect x="247" y="161" width="1" height="17" fill="#f23645"/>
<rect x="245" y="168" width="5" height="10" fill="#f23645"/>
<rect x="254" y="177" width="1" height="26" fill="#f23645"/>
<rect x="252" y="177" width="5" height="21" fill="#f23645"/>
<rect x="261" y="193" width="1" height="53" fill="#f23645"/>
<rect x="259" y="196" width="5" height="37" fill="#f23645"/>
<rect x="267" y="223" width="1" height="25" fill="#089981"/>
<rect x="265" y="231" width="5" height="2" fill="#089981"/>
<rect x="274" y="195" width="1" height="43" fill="#089981"/>
<rect x="272" y="205" width="5" height="28" fill="#089981"/>
<rect x="280" y="183" width="1" height="32" fill="#089981"/>
<rect x="278" y="204" width="5" height="1" fill="#089981"/>
<rect x="287" y="201" width="1" height="21" fill="#f23645"/>
<rect x="285" y="204" width="5" height="10" fill="#f23645"/>
<rect x="293" y="200" width="1" height="18" fill="#089981"/>
<rect x="291" y="204" width="5" height="10" fill="#089981"/>
<rect x="300" y="198" width="1" height="24" fill="#f23645"/>
<rect x="298" y="204" width="5" height="5" fill="#f23645"/>
<rect x="306" y="187" width="1" height="27" fill="#089981"/>
<rect x="304" y="199" width="5" height="10" fill="#089981"/>
<rect x="313" y="192" width="1" height="18" fill="#f23645"/>
<rect x="311" y="199" width="5" height="2" fill="#f23645"/>
<rect x="319" y="175" width="1" height="43" fill="#f23645"/>
<rect x="317" y="201" width="5" height="8" fill="#f23645"/>
<rect x="326" y="189" width="1" height="23" fill="#089981"/>
<rect x="324" y="208" width="5" height="1" fill="#089981"/>
<rect x="333" y="201" width="1" height="7" fill="#089981"/>
<rect x="331" y="203" width="5" height="5" fill="#089981"/>
<rect x="339" y="192" width="1" height="21" fill="#089981"/>
<rect x="337" y="199" width="5" height="5" fill="#089981"/>
<rect x="346" y="184" width="1" height="24" fill="#f23645"/>
<rect x="344" y="198" width="5" height="9" fill="#f23645"/>
<rect x="352" y="192" width="1" height="24" fill="#089981"/>
<rect x="350" y="196" width="5" height="11" fill="#089981"/>
<rect x="359" y="172" width="1" height="52" fill="#089981"/>
<rect x="357" y="177" width="5" height="20" fill="#089981"/>
<rect x="365" y="176" width="1" height="18" fill="#f23645"/>
<rect x="363" y="177" width="5" height="8" fill="#f23645"/>
<rect x="372" y="183" width="1" height="8" fill="#f23645"/>
<rect x="370" y="184" width="5" height="4" fill="#f23645"/>
<rect x="378" y="186" width="1" height="12" fill="#f23645"/>
<rect x="376" y="188" width="5" height="2" fill="#f23645"/>
<rect x="385" y="176" width="1" height="21" fill="#f23645"/>
<rect x="383" y="190" width="5" height="1" fill="#f23645"/>
<rect x="392" y="182" width="1" height="22" fill="#089981"/>
<rect x="390" y="185" width="5" height="6" fill="#089981"/>
<rect x="398" y="178" width="1" height="48" fill="#f23645"/>
<rect x="396" y="185" width="5" height="24" fill="#f23645"/>
<rect x="405" y="202" width="1" height="42" fill="#f23645"/>
<rect x="403" y="208" width="5" height="24" fill="#f23645"/>
<rect x="411" y="222" width="1" height="12" fill="#089981"/>
<rect x="409" y="223" width="5" height="9" fill="#089981"/>
<rect x="418" y="204" width="1" height="63" fill="#089981"/>
<rect x="416" y="207" width="5" height="17" fill="#089981"/>
<rect x="424" y="199" width="1" height="20" fill="#f23645"/>
<rect x="422" y="207" width="5" height="4" fill="#f23645"/>
<rect x="431" y="197" width="1" height="27" fill="#f23645"/>
<rect x="429" y="210" width="5" height="2" fill="#f23645"/>
<rect x="437" y="201" width="1" height="42" fill="#f23645"/>
<rect x="435" y="212" width="5" height="3" fill="#f23645"/>
<rect x="444" y="206" width="1" height="18" fill="#f23645"/>
<rect x="442" y="214" width="5" height="7" fill="#f23645"/>
<rect x="450" y="217" width="1" height="11" fill="#f23645"/>
<rect x="448" y="220" width="5" height="7" fill="#f23645"/>
<rect x="457" y="191" width="1" height="33" fill="#089981"/>
<rect x="455" y="209" width="5" height="15" fill="#089981"/>
<rect x="464" y="186" width="1" height="50" fill="#f23645"/>
<rect x="462" y="210" width="5" height="2" fill="#f23645"/>
<rect x="470" y="185" width="1" height="36" fill="#089981"/>
<rect x="468" y="186" width="5" height="27" fill="#089981"/>
<rect x="477" y="165" width="1" height="31" fill="#089981"/>
<rect x="475" y="174" width="5" height="13" fill="#089981"/>
<rect x="483" y="130" width="1" height="50" fill="#089981"/>
<rect x="481" y="148" width="5" height="27" fill="#089981"/>
<rect x="490" y="143" width="1" height="25" fill="#f23645"/>
<rect x="488" y="148" width="5" height="19" fill="#f23645"/>
<rect x="496" y="162" width="1" height="11" fill="#089981"/>
<rect x="494" y="165" width="5" height="1" fill="#089981"/>
<rect x="503" y="140" width="1" height="30" fill="#089981"/>
<rect x="501" y="145" width="5" height="21" fill="#089981"/>
<rect x="509" y="136" width="1" height="22" fill="#f23645"/>
<rect x="507" y="144" width="5" height="13" fill="#f23645"/>
<rect x="516" y="129" width="1" height="33" fill="#089981"/>
<rect x="514" y="134" width="5" height="23" fill="#089981"/>
<rect x="523" y="97" width="1" height="42" fill="#089981"/>
<rect x="521" y="107" width="5" height="28" fill="#089981"/>
<rect x="529" y="89" width="1" height="23" fill="#089981"/>
<rect x="527" y="97" width="5" height="11" fill="#089981"/>
<rect x="536" y="83" width="1" height="15" fill="#089981"/>
<rect x="534" y="88" width="5" height="10" fill="#089981"/>
<rect x="542" y="70" width="1" height="24" fill="#f23645"/>
<rect x="540" y="88" width="5" height="1" fill="#f23645"/>
<rect x="549" y="83" width="1" height="51" fill="#f23645"/>
<rect x="547" y="89" width="5" height="14" fill="#f23645"/>
<rect x="555" y="79" width="1" height="29" fill="#089981"/>
<rect x="553" y="87" width="5" height="16" fill="#089981"/>
<rect x="562" y="45" width="1" height="55" fill="#089981"/>
<rect x="560" y="51" width="5" height="37" fill="#089981"/>
<rect x="568" y="34" width="1" height="21" fill="#089981"/>
<rect x="566" y="40" width="5" height="12" fill="#089981"/>
<rect x="575" y="34" width="1" height="11" fill="#089981"/>
<rect x="573" y="36" width="5" height="5" fill="#089981"/>
<rect x="581" y="23" width="1" height="61" fill="#f23645"/>
<rect x="579" y="36" width="5" height="22" fill="#f23645"/>
<rect x="588" y="35" width="1" height="23" fill="#089981"/>
<rect x="586" y="44" width="5" height="14" fill="#089981"/>
<rect x="595" y="38" width="1" height="26" fill="#f23645"/>
<rect x="593" y="44" width="5" height="13" fill="#f23645"/>
<rect x="601" y="52" width="1" height="81" fill="#f23645"/>
<rect x="599" y="56" width="5" height="68" fill="#f23645"/>
<rect x="608" y="107" width="1" height="21" fill="#089981"/>
<rect x="606" y="116" width="5" height="8" fill="#089981"/>
<rect x="614" y="115" width="1" height="8" fill="#f23645"/>
<rect x="612" y="116" width="5" height="6" fill="#f23645"/>
<rect x="621" y="94" width="1" height="31" fill="#089981"/>
<rect x="619" y="105" width="5" height="17" fill="#089981"/>
<rect x="627" y="100" width="1" height="20" fill="#f23645"/>
<rect x="625" y="105" width="5" height="11" fill="#f23645"/>
<rect x="634" y="112" width="1" height="44" fill="#f23645"/>
<rect x="632" y="116" width="5" height="40" fill="#f23645"/>
<rect x="640" y="138" width="1" height="39" fill="#f23645"/>
<rect x="638" y="155" width="5" height="12" fill="#f23645"/>
<rect x="647" y="156" width="1" height="27" fill="#f23645"/>
<rect x="645" y="166" width="5" height="16" fill="#f23645"/>
<rect x="654" y="180" width="1" height="15" fill="#f23645"/>
<rect x="652" y="181" width="5" height="12" fill="#f23645"/>
<rect x="660" y="181" width="1" height="11" fill="#089981"/>
<rect x="658" y="184" width="5" height="7" fill="#089981"/>
<rect x="667" y="175" width="1" height="26" fill="#089981"/>
<rect x="665" y="179" width="5" height="6" fill="#089981"/>
<rect x="673" y="175" width="1" height="13" fill="#f23645"/>
<rect x="671" y="179" width="5" height="1" fill="#f23645"/>
<rect x="680" y="157" width="1" height="25" fill="#089981"/>
<rect x="678" y="158" width="5" height="22" fill="#089981"/>
<rect x="686" y="156" width="1" height="30" fill="#f23645"/>
<rect x="684" y="158" width="5" height="21" fill="#f23645"/>
<rect x="693" y="175" width="1" height="16" fill="#f23645"/>
<rect x="691" y="178" width="5" height="3" fill="#f23645"/>
<rect x="699" y="180" width="1" height="5" fill="#f23645"/>
<rect x="697" y="180" width="5" height="5" fill="#f23645"/>
<rect x="706" y="169" width="1" height="16" fill="#089981"/>
<rect x="704" y="180" width="5" height="5" fill="#089981"/>
<rect x="713" y="172" width="1" height="23" fill="#089981"/>
<rect x="711" y="179" width="5" height="1" fill="#089981"/>
<rect x="719" y="178" width="1" height="39" fill="#f23645"/>
<rect x="717" y="180" width="5" height="25" fill="#f23645"/>
<rect x="726" y="194" width="1" height="30" fill="#f23645"/>
<rect x="724" y="204" width="5" height="6" fill="#f23645"/>
<rect x="732" y="190" width="1" height="26" fill="#089981"/>
<rect x="730" y="197" width="5" height="13" fill="#089981"/>
<rect x="739" y="193" width="1" height="9" fill="#089981"/>
<rect x="737" y="193" width="5" height="5" fill="#089981"/>
<rect x="745" y="184" width="1" height="14" fill="#f23645"/>
<rect x="743" y="193" width="5" height="5" fill="#f23645"/>
<rect x="752" y="189" width="1" height="14" fill="#f23645"/>
<rect x="750" y="197" width="5" height="3" fill="#f23645"/>
<rect x="758" y="188" width="1" height="17" fill="#089981"/>
<rect x="756" y="196" width="5" height="4" fill="#089981"/>
<rect x="765" y="192" width="1" height="31" fill="#f23645"/>
<rect x="763" y="196" width="5" height="18" fill="#f23645"/>
<rect x="771" y="209" width="1" height="78" fill="#f23645"/>
<rect x="769" y="213" width="5" height="74" fill="#f23645"/>
<rect x="778" y="275" width="1" height="57" fill="#f23645"/>
<rect x="776" y="286" width="5" height="36" fill="#f23645"/>
<rect x="785" y="256" width="1" height="66" fill="#089981"/>
<rect x="783" y="273" width="5" height="49" fill="#089981"/>
<rect x="791" y="247" width="1" height="41" fill="#089981"/>
<rect x="789" y="260" width="5" height="14" fill="#089981"/>
<rect x="798" y="238" width="1" height="29" fill="#089981"/>
<rect x="796" y="259" width="5" height="1" fill="#089981"/>
<rect x="804" y="259" width="1" height="65" fill="#f23645"/>
<rect x="802" y="259" width="5" height="62" fill="#f23645"/>
<rect x="811" y="293" width="1" height="30" fill="#089981"/>
<rect x="809" y="303" width="5" height="19" fill="#089981"/>
<rect x="817" y="295" width="1" height="17" fill="#f23645"/>
<rect x="815" y="302" width="5" height="8" fill="#f23645"/>
<rect x="824" y="287" width="1" height="31" fill="#089981"/>
<rect x="822" y="299" width="5" height="11" fill="#089981"/>
<rect x="830" y="279" width="1" height="24" fill="#089981"/>
<rect x="828" y="282" width="5" height="18" fill="#089981"/>
<rect x="837" y="279" width="1" height="16" fill="#f23645"/>
<rect x="835" y="282" width="5" height="7" fill="#f23645"/>
<rect x="844" y="228" width="1" height="67" fill="#089981"/>
<rect x="842" y="230" width="5" height="59" fill="#089981"/>
<rect x="850" y="227" width="1" height="20" fill="#f23645"/>
<rect x="848" y="230" width="5" height="6" fill="#f23645"/>
<rect x="857" y="235" width="1" height="12" fill="#f23645"/>
<rect x="855" y="235" width="5" height="12" fill="#f23645"/>
<rect x="863" y="242" width="1" height="7" fill="#089981"/>
<rect x="861" y="243" width="5" height="4" fill="#089981"/>
<rect x="870" y="236" width="1" height="22" fill="#f23645"/>
<rect x="868" y="243" width="5" height="1" fill="#f23645"/>
<rect x="876" y="224" width="1" height="21" fill="#089981"/>
<rect x="874" y="230" width="5" height="15" fill="#089981"/>
<rect x="883" y="226" width="1" height="38" fill="#f23645"/>
<rect x="881" y="231" width="5" height="30" fill="#f23645"/>
<rect x="889" y="253" width="1" height="22" fill="#f23645"/>
<rect x="887" y="260" width="5" height="15" fill="#f23645"/>
<rect x="896" y="260" width="1" height="18" fill="#089981"/>
<rect x="894" y="271" width="5" height="5" fill="#089981"/>
<rect x="902" y="259" width="1" height="17" fill="#089981"/>
<rect x="900" y="262" width="5" height="10" fill="#089981"/>
<rect x="909" y="252" width="1" height="14" fill="#089981"/>
<rect x="907" y="255" width="5" height="7" fill="#089981"/>
<rect x="916" y="249" width="1" height="11" fill="#f23645"/>
<rect x="914" y="254" width="5" height="2" fill="#f23645"/>
<rect x="922" y="253" width="1" height="16" fill="#f23645"/>
<rect x="920" y="256" width="5" height="8" fill="#f23645"/>
<rect x="929" y="258" width="1" height="16" fill="#f23645"/>
<rect x="927" y="263" width="5" height="8" fill="#f23645"/>
<rect x="935" y="254" width="1" height="17" fill="#089981"/>
<rect x="933" y="259" width="5" height="12" fill="#089981"/>
<rect x="942" y="259" width="1" height="1" fill="#089981"/>
<rect x="940" y="259" width="5" height="1" fill="#089981"/>
<rect x="948" y="252" width="1" height="11" fill="#089981"/>
<rect x="946" y="255" width="5" height="8" fill="#089981"/>
<rect x="955" y="233" width="1" height="23" fill="#089981"/>
<rect x="953" y="237" width="5" height="19" fill="#089981"/>
<rect x="961" y="232" width="1" height="13" fill="#f23645"/>
<rect x="959" y="237" width="5" height="5" fill="#f23645"/>
<rect x="968" y="231" width="1" height="11" fill="#089981"/>
<rect x="966" y="235" width="5" height="6" fill="#089981"/>
<rect x="975" y="211" width="1" height="38" fill="#089981"/>
<rect x="973" y="217" width="5" height="19" fill="#089981"/>
<rect x="981" y="216" width="1" height="19" fill="#f23645"/>
<rect x="979" y="217" width="5" height="4" fill="#f23645"/>
<rect x="988" y="217" width="1" height="10" fill="#f23645"/>
<rect x="986" y="220" width="5" height="6" fill="#f23645"/>
<rect x="994" y="219" width="1" height="14" fill="#089981"/>
<rect x="992" y="223" width="5" height="3" fill="#089981"/>
<rect x="1001" y="213" width="1" height="15" fill="#f23645"/>
<rect x="999" y="223" width="5" height="1" fill="#f23645"/>
<rect x="1007" y="223" width="1" height="22" fill="#f23645"/>
<rect x="1005" y="223" width="5" height="12" fill="#f23645"/>
<rect x="1014" y="227" width="1" height="43" fill="#f23645"/>
<rect x="1012" y="233" width="5" height="24" fill="#f23645"/>
<rect x="1020" y="249" width="1" height="16" fill="#089981"/>
<rect x="1018" y="251" width="5" height="6" fill="#089981"/>
<rect x="1027" y="251" width="1" height="17" fill="#f23645"/>
<rect x="1025" y="251" width="5" height="12" fill="#f23645"/>
<rect x="1033" y="239" width="1" height="15" fill="#089981"/>
<rect x="1031" y="244" width="5" height="6" fill="#089981"/>
<rect x="1040" y="235" width="1" height="14" fill="#089981"/>
<rect x="1038" y="238" width="5" height="6" fill="#089981"/>
<rect x="1047" y="238" width="1" height="23" fill="#f23645"/>
<rect x="1045" y="238" width="5" height="22" fill="#f23645"/>
<rect x="1053" y="255" width="1" height="21" fill="#f23645"/>
<rect x="1051" y="259" width="5" height="1" fill="#f23645"/>
<rect x="1060" y="247" width="1" height="49" fill="#f23645"/>
<rect x="1058" y="260" width="5" height="33" fill="#f23645"/>
<rect x="1066" y="278" width="1" height="26" fill="#089981"/>
<rect x="1064" y="280" width="5" height="13" fill="#089981"/>
<rect x="1073" y="275" width="1" height="12" fill="#f23645"/>
<rect x="1071" y="280" width="5" height="1" fill="#f23645"/>
<rect x="1079" y="271" width="1" height="17" fill="#f23645"/>
<rect x="1077" y="281" width="5" height="6" fill="#f23645"/>
<rect x="1086" y="265" width="1" height="25" fill="#089981"/>
<rect x="1084" y="266" width="5" height="21" fill="#089981"/>
<rect x="1092" y="257" width="1" height="18" fill="#f23645"/>
<rect x="1090" y="266" width="5" height="7" fill="#f23645"/>
<rect x="1099" y="238" width="1" height="46" fill="#089981"/>
<rect x="1097" y="240" width="5" height="33" fill="#089981"/>
<rect x="1106" y="236" width="1" height="11" fill="#f23645"/>
<rect x="1104" y="240" width="5" height="5" fill="#f23645"/>
<rect x="1112" y="242" width="1" height="6" fill="#089981"/>
<rect x="1110" y="243" width="5" height="2" fill="#089981"/>
<rect x="1119" y="240" width="1" height="9" fill="#089981"/>
<rect x="1117" y="244" width="5" height="1" fill="#089981"/>
<rect x="1125" y="217" width="1" height="29" fill="#089981"/>
<rect x="1123" y="223" width="5" height="22" fill="#089981"/>
<rect x="1132" y="217" width="1" height="11" fill="#089981"/>
<rect x="1130" y="218" width="5" height="6" fill="#089981"/>
<rect x="1138" y="195" width="1" height="33" fill="#089981"/>
<rect x="1136" y="206" width="5" height="13" fill="#089981"/>
<rect x="1145" y="175" width="1" height="43" fill="#089981"/>
<rect x="1143" y="179" width="5" height="27" fill="#089981"/>
<rect x="1151" y="165" width="1" height="23" fill="#089981"/>
<rect x="1149" y="177" width="5" height="3" fill="#089981"/>
<rect x="1158" y="165" width="1" height="13" fill="#089981"/>
<rect x="1156" y="169" width="5" height="9" fill="#089981"/>
<rect x="1164" y="154" width="1" height="20" fill="#089981"/>
<rect x="1162" y="161" width="5" height="9" fill="#089981"/>
<rect x="1171" y="156" width="1" height="27" fill="#f23645"/>
<rect x="1169" y="161" width="5" height="18" fill="#f23645"/>
<rect x="1178" y="167" width="1" height="21" fill="#089981"/>
<rect x="1176" y="171" width="5" height="8" fill="#089981"/>
<rect x="1184" y="170" width="1" height="37" fill="#f23645"/>
<rect x="1182" y="171" width="5" height="31" fill="#f23645"/>
<rect x="1191" y="193" width="1" height="18" fill="#f23645"/>
<rect x="1189" y="201" width="5" height="10" fill="#f23645"/>
<rect x="1197" y="209" width="1" height="7" fill="#f23645"/>
<rect x="1195" y="210" width="5" height="4" fill="#f23645"/>
<rect x="1204" y="204" width="1" height="8" fill="#089981"/>
<rect x="1202" y="207" width="5" height="5" fill="#089981"/>
<rect x="1210" y="193" width="1" height="18" fill="#f23645"/>
<rect x="1208" y="207" width="5" height="3" fill="#f23645"/>
<rect x="1217" y="207" width="1" height="34" fill="#f23645"/>
<rect x="1215" y="209" width="5" height="29" fill="#f23645"/>
<rect x="1223" y="188" width="1" height="52" fill="#089981"/>
<rect x="1221" y="197" width="5" height="41" fill="#089981"/>
<rect x="1230" y="190" width="1" height="74" fill="#f23645"/>
<rect x="1228" y="197" width="5" height="25" fill="#f23645"/>
<rect x="1237" y="206" width="1" height="19" fill="#089981"/>
<rect x="1235" y="221" width="5" height="1" fill="#089981"/>
<rect x="1243" y="216" width="1" height="8" fill="#089981"/>
<rect x="1241" y="221" width="5" height="1" fill="#089981"/>
<rect x="1250" y="206" width="1" height="18" fill="#089981"/>
<rect x="1248" y="210" width="5" height="12" fill="#089981"/>
<rect x="1256" y="195" width="1" height="20" fill="#089981"/>
<rect x="1254" y="208" width="5" height="3" fill="#089981"/>
<rect x="1263" y="190" width="1" height="19" fill="#089981"/>
<rect x="1261" y="191" width="5" height="18" fill="#089981"/>
<rect x="1269" y="157" width="1" height="47" fill="#f23645"/>
<rect x="1267" y="191" width="5" height="3" fill="#f23645"/>
<rect x="1276" y="174" width="1" height="21" fill="#089981"/>
<rect x="1274" y="189" width="5" height="4" fill="#089981"/>
<rect x="1282" y="184" width="1" height="9" fill="#089981"/>
<rect x="1280" y="188" width="5" height="1" fill="#089981"/>
<rect x="1289" y="184" width="1" height="13" fill="#f23645"/>
<rect x="1287" y="188" width="5" height="7" fill="#f23645"/>
<rect x="1295" y="178" width="1" height="20" fill="#089981"/>
<rect x="1293" y="182" width="5" height="14" fill="#089981"/>
<rect x="1302" y="176" width="1" height="17" fill="#f23645"/>
<rect x="1300" y="182" width="5" height="5" fill="#f23645"/>
<rect x="1309" y="149" width="1" height="47" fill="#089981"/>
<rect x="1307" y="153" width="5" height="34" fill="#089981"/>
<rect x="1315" y="144" width="1" height="45" fill="#f23645"/>
<rect x="1313" y="153" width="5" height="18" fill="#f23645"/>
<rect x="1322" y="157" width="1" height="14" fill="#089981"/>
<rect x="1320" y="160" width="5" height="11" fill="#089981"/>
<rect x="1328" y="160" width="1" height="14" fill="#f23645"/>
<rect x="1326" y="160" width="5" height="8" fill="#f23645"/>
<rect x="1335" y="151" width="1" height="25" fill="#089981"/>
<rect x="1333" y="161" width="5" height="7" fill="#089981"/>
<rect x="1341" y="137" width="1" height="28" fill="#089981"/>
<rect x="1339" y="144" width="5" height="18" fill="#089981"/>
<rect x="1348" y="126" width="1" height="24" fill="#f23645"/>
<rect x="1346" y="144" width="5" height="5" fill="#f23645"/>
<rect x="1354" y="139" width="1" height="21" fill="#089981"/>
<rect x="1352" y="144" width="5" height="5" fill="#089981"/>
<rect x="1361" y="141" width="1" height="7" fill="#f23645"/>
<rect x="1359" y="144" width="5" height="1" fill="#f23645"/>
<rect x="1368" y="134" width="1" height="12" fill="#089981"/>
<rect x="1366" y="136" width="5" height="9" fill="#089981"/>
<rect x="1374" y="125" width="1" height="16" fill="#089981"/>
<rect x="1372" y="131" width="5" height="6" fill="#089981"/>
<rect x="1381" y="116" width="1" height="16" fill="#089981"/>
<rect x="1379" y="119" width="5" height="13" fill="#089981"/>
<rect x="1387" y="84" width="1" height="73" fill="#089981"/>
<rect x="1385" y="95" width="5" height="25" fill="#089981"/>
<rect x="1394" y="85" width="1" height="28" fill="#f23645"/>
<rect x="1392" y="95" width="5" height="16" fill="#f23645"/>
<rect x="1400" y="99" width="1" height="14" fill="#089981"/>
<rect x="1398" y="99" width="5" height="12" fill="#089981"/>
<rect x="1407" y="98" width="1" height="9" fill="#089981"/>
<rect x="1405" y="99" width="5" height="4" fill="#089981"/>
<rect x="1413" y="94" width="1" height="30" fill="#f23645"/>
<rect x="1411" y="99" width="5" height="8" fill="#f23645"/>
<rect x="1420" y="98" width="1" height="17" fill="#f23645"/>
<rect x="1418" y="105" width="5" height="7" fill="#f23645"/>
<rect x="1426" y="101" width="1" height="31" fill="#f23645"/>
<rect x="1424" y="112" width="5" height="20" fill="#f23645"/>
<rect x="1433" y="129" width="1" height="34" fill="#f23645"/>
<rect x="1431" y="131" width="5" height="32" fill="#f23645"/>
<rect x="1440" y="149" width="1" height="24" fill="#f23645"/>
<rect x="1438" y="162" width="5" height="7" fill="#f23645"/>
<rect x="1446" y="145" width="1" height="24" fill="#089981"/>
<rect x="1444" y="149" width="5" height="20" fill="#089981"/>
<rect x="1453" y="139" width="1" height="13" fill="#089981"/>
<rect x="1451" y="145" width="5" height="5" fill="#089981"/>
<rect x="1459" y="133" width="1" height="17" fill="#f23645"/>
<rect x="1457" y="145" width="5" height="2" fill="#f23645"/>
<rect x="1466" y="134" width="1" height="22" fill="#089981"/>
<rect x="1464" y="146" width="5" height="1" fill="#089981"/>
<rect x="1472" y="135" width="1" height="31" fill="#089981"/>
<rect x="1470" y="141" width="5" height="6" fill="#089981"/>
<rect x="1479" y="130" width="1" height="21" fill="#089981"/>
<rect x="1477" y="135" width="5" height="6" fill="#089981"/>
<rect x="1485" y="125" width="1" height="15" fill="#089981"/>
<rect x="1483" y="132" width="5" height="4" fill="#089981"/>
<rect x="1492" y="130" width="1" height="16" fill="#089981"/>
<rect x="1490" y="131" width="5" height="2" fill="#089981"/>
<rect x="1499" y="114" width="1" height="21" fill="#089981"/>
<rect x="1497" y="120" width="5" height="12" fill="#089981"/>
<rect x="1505" y="103" width="1" height="18" fill="#089981"/>
<rect x="1503" y="108" width="5" height="13" fill="#089981"/>
<rect x="1512" y="88" width="1" height="42" fill="#f23645"/>
<rect x="1510" y="108" width="5" height="20" fill="#f23645"/>
<rect x="1518" y="95" width="1" height="34" fill="#089981"/>
<rect x="1516" y="95" width="5" height="32" fill="#089981"/>
</g>
<g clip-path="url(#cp2)">
<polyline points="13.4,352.9 18.2,347.9 25.2,354.3 31.2,354.6 38.2,352.1 44.2,352.4 51.2,356.8 57.2,353.8 64.2,379.8 71.2,384.0 77.2,372.2 84.2,417.2 90.2,424.9 97.2,435.1 103.2,426.0 110.2,438.5 116.2,425.6 123.2,436.3 130.2,409.3 136.2,403.6 143.2,411.8 149.2,372.0 156.2,367.6 162.2,363.7 169.2,380.3 175.2,368.9 182.2,384.7 188.2,378.1 195.2,371.4 202.2,379.5 208.2,381.2 215.2,387.7 221.2,377.7 228.2,372.3 234.2,368.4 241.2,370.3 247.2,368.4 254.2,378.0 261.2,393.4 267.2,387.6 274.2,382.0 280.2,380.4 287.2,396.1 293.2,393.5 300.2,394.1 306.2,391.2 313.2,389.2 319.2,385.9 326.2,375.9 333.2,375.2 339.2,381.2 346.2,383.7 352.2,377.8 359.2,375.5 365.2,376.4 372.2,379.7 378.2,380.0 385.2,377.9 392.2,376.7 398.2,384.4 405.2,391.8 411.2,387.3 418.2,385.9 424.2,392.0 431.2,390.3 437.2,390.2 444.2,391.1 450.2,392.7 457.2,389.4 464.2,383.9 470.2,370.4 477.2,369.4 483.2,366.7 490.2,370.8 496.2,369.8 503.2,363.8 509.2,365.4 516.2,357.6 523.2,355.0 529.2,351.3 536.2,356.1 542.2,359.6 549.2,370.5 555.2,361.1 562.2,351.8 568.2,354.1 575.2,349.7 581.2,361.9 588.2,365.6 595.2,371.8 601.2,392.6 608.2,390.2 614.2,388.0 621.2,387.8 627.2,400.5 634.2,414.5 640.2,418.7 647.2,416.8 654.2,423.5 660.2,417.7 667.2,398.0 673.2,400.4 680.2,392.7 686.2,403.0 693.2,400.6 699.2,390.8 706.2,386.5 713.2,382.1 719.2,386.1 726.2,389.9 732.2,387.8 739.2,386.4 745.2,393.8 752.2,388.6 758.2,387.1 765.2,390.8 771.2,412.0 778.2,421.9 785.2,401.6 791.2,396.6 798.2,399.7 804.2,417.8 811.2,411.7 817.2,413.0 824.2,411.0 830.2,401.6 837.2,383.4 844.2,357.7 850.2,372.6 857.2,379.2 863.2,378.6 870.2,361.8 876.2,362.9 883.2,369.4 889.2,376.2 896.2,379.7 902.2,375.6 909.2,389.7 916.2,388.3 922.2,387.5 929.2,390.4 935.2,387.1 942.2,390.7 948.2,381.3 955.2,372.6 961.2,374.9 968.2,375.4 975.2,372.5 981.2,373.3 988.2,372.5 994.2,369.8 1001.2,373.2 1007.2,376.4 1014.2,383.3 1020.2,386.7 1027.2,388.6 1033.2,385.3 1040.2,388.6 1047.2,393.5 1053.2,392.1 1060.2,401.9 1066.2,398.3 1073.2,395.3 1079.2,391.1 1086.2,386.9 1092.2,385.6 1099.2,381.8 1106.2,384.7 1112.2,378.3 1119.2,378.6 1125.2,363.8 1132.2,365.9 1138.2,362.3 1145.2,353.4 1151.2,358.5 1158.2,354.5 1164.2,361.2 1171.2,364.7 1178.2,363.1 1184.2,371.3 1191.2,379.5 1197.2,381.6 1204.2,383.2 1210.2,391.4 1217.2,399.6 1223.2,390.5 1230.2,399.4 1237.2,394.4 1243.2,396.4 1250.2,385.1 1256.2,382.1 1263.2,376.7 1269.2,379.2 1276.2,377.1 1282.2,369.1 1289.2,382.2 1295.2,372.0 1302.2,373.6 1309.2,364.3 1315.2,372.0 1322.2,369.7 1328.2,376.4 1335.2,373.9 1341.2,370.5 1348.2,372.2 1354.2,369.0 1361.2,372.7 1368.2,369.0 1374.2,376.9 1381.2,368.8 1387.2,365.2 1394.2,367.3 1400.2,365.9 1407.2,370.6 1413.2,371.3 1420.2,374.0 1426.2,379.2 1433.2,390.1 1440.2,393.1 1446.2,391.1 1453.2,396.5 1459.2,392.7 1466.2,395.6 1472.2,394.4 1479.2,390.6 1485.2,388.4 1492.2,382.7 1499.2,371.2 1505.2,366.3 1512.2,377.2 1518.2,369.2" fill="none" stroke="#2196f3" stroke-width="1.3" stroke-linejoin="round" stroke-linecap="round"/>
</g>
<g clip-path="url(#cp3)">
<polyline points="13.1,478.7 18.5,471.8 25.5,467.7 31.5,466.2 38.5,465.0 44.5,465.0 51.5,468.7 57.5,464.5 64.5,517.0 71.5,520.5 77.5,509.6 84.5,541.8 90.5,543.0 97.5,549.2 103.5,537.4 110.5,544.3 116.5,533.9 123.5,535.7 130.5,536.4 136.5,533.7 143.5,530.4 149.5,525.3 156.5,522.6 162.5,528.0 169.5,532.9 175.5,530.9 182.5,535.7 188.5,530.3 195.5,523.5 202.5,530.0 208.5,528.0 215.5,529.7 221.5,514.4 228.5,514.1 234.5,515.2 241.5,515.6 247.5,519.7 254.5,528.3 261.5,541.2 267.5,540.5 274.5,529.1 280.5,528.6 287.5,533.0 293.5,528.3 300.5,530.3 306.5,525.7 313.5,526.7 319.5,530.6 326.5,530.0 333.5,527.4 339.5,525.0 346.5,529.8 352.5,523.1 359.5,512.5 365.5,518.0 372.5,519.8 378.5,521.8 385.5,522.0 392.5,518.1 398.5,535.2 405.5,548.0 411.5,541.5 418.5,530.5 424.5,532.7 431.5,533.8 437.5,535.3 444.5,539.3 450.5,543.1 457.5,528.8 464.5,531.3 470.5,513.6 477.5,507.1 483.5,495.4 490.5,509.1 496.5,508.2 503.5,499.5 509.5,508.1 516.5,498.7 523.5,489.6 529.5,486.6 536.5,484.0 542.5,484.8 549.5,495.5 555.5,490.0 562.5,479.9 568.5,477.3 575.5,476.3 581.5,492.6 588.5,488.5 595.5,497.1 601.5,530.6 608.5,527.5 614.5,529.8 621.5,522.8 627.5,527.5 634.5,542.7 640.5,546.3 647.5,551.0 654.5,554.3 660.5,549.7 667.5,546.9 673.5,547.3 680.5,535.0 686.5,543.5 693.5,544.2 699.5,545.9 706.5,543.0 713.5,542.3 719.5,553.4 726.5,555.3 732.5,546.5 739.5,543.8 745.5,546.0 752.5,547.0 758.5,544.2 765.5,553.2 771.5,576.5 778.5,583.2 785.5,555.6 791.5,549.5 798.5,548.8 804.5,564.5 811.5,556.3 817.5,557.9 824.5,552.8 830.5,545.0 837.5,547.0 844.5,524.0 850.5,526.0 857.5,530.0 863.5,528.6 870.5,528.8 876.5,523.1 883.5,535.4 889.5,540.4 896.5,538.5 902.5,534.4 909.5,531.1 916.5,531.4 922.5,535.1 929.5,538.4 935.5,531.7 942.5,531.5 948.5,529.3 955.5,519.1 961.5,522.0 968.5,518.2 975.5,508.9 981.5,511.5 988.5,515.2 994.5,513.7 1001.5,514.2 1007.5,523.3 1014.5,537.8 1020.5,533.7 1027.5,540.8 1033.5,527.4 1040.5,523.7 1047.5,537.1 1053.5,537.1 1060.5,553.4 1066.5,544.6 1073.5,544.9 1079.5,547.9 1086.5,533.3 1092.5,537.0 1099.5,518.1 1106.5,521.0 1112.5,520.1 1119.5,520.7 1125.5,509.3 1132.5,506.8 1138.5,501.0 1145.5,490.4 1151.5,489.7 1158.5,486.9 1164.5,484.1 1171.5,499.1 1178.5,496.0 1184.5,517.8 1191.5,523.1 1197.5,524.9 1204.5,521.1 1210.5,523.1 1217.5,539.5 1223.5,517.4 1230.5,529.7 1237.5,529.2 1243.5,529.2 1250.5,523.5 1256.5,522.4 1263.5,513.6 1269.5,515.3 1276.5,512.9 1282.5,512.2 1289.5,517.5 1295.5,510.2 1302.5,513.9 1309.5,497.3 1315.5,510.2 1322.5,505.3 1328.5,510.7 1335.5,507.5 1341.5,499.8 1348.5,503.5 1354.5,501.3 1361.5,502.0 1368.5,497.7 1374.5,495.3 1381.5,489.9 1387.5,481.0 1394.5,494.9 1400.5,490.3 1407.5,490.3 1413.5,497.2 1420.5,501.9 1426.5,517.9 1433.5,537.1 1440.5,540.2 1446.5,527.9 1453.5,525.6 1459.5,526.6 1466.5,526.0 1472.5,522.9 1479.5,518.7 1485.5,516.7 1492.5,516.0 1499.5,508.5 1505.5,501.2 1512.5,519.3 1518.5,501.4" fill="none" stroke="#7e57c2" stroke-width="1.3" stroke-linejoin="round" stroke-linecap="round"/>
</g>
<rect x="14" y="336" width="1648" height="1" fill="#e0e3eb"/>
<rect x="14" y="449" width="1648" height="1" fill="#e0e3eb"/>
<rect x="12.9" y="12.9" width="1649.3" height="617.2" fill="none" stroke="#e9ebf2" stroke-width="1.8"/>
<path d="M13.1,645.9 h9.7 v12 h-5.1 v-7 h-4.6 z" fill="#131722"/>
<circle cx="26.5" cy="648.3" r="2.3" fill="#131722"/>
<path d="M30.3,645.9 h6.9 l-4.6,12 h-5.9 z" fill="#131722"/>
</svg>
<span class="t" style="left:1597.30px;top:26.87px;color:#131722;font-size:14.8px;letter-spacing:-0.250px;transform:scale(1,1.05);transform-origin:0 15.13px;">2720.00</span>
<span class="t" style="left:1597.30px;top:70.17px;color:#131722;font-size:14.8px;letter-spacing:-0.250px;transform:scale(1,1.05);transform-origin:0 15.13px;">2700.00</span>
<span class="t" style="left:1597.30px;top:113.47px;color:#131722;font-size:14.8px;letter-spacing:-0.250px;transform:scale(1,1.05);transform-origin:0 15.13px;">2680.00</span>
<span class="t" style="left:1597.30px;top:156.77px;color:#131722;font-size:14.8px;letter-spacing:-0.250px;transform:scale(1,1.05);transform-origin:0 15.13px;">2660.00</span>
<span class="t" style="left:1597.30px;top:200.07px;color:#131722;font-size:14.8px;letter-spacing:-0.250px;transform:scale(1,1.05);transform-origin:0 15.13px;">2640.00</span>
<span class="t" style="left:1597.30px;top:243.37px;color:#131722;font-size:14.8px;letter-spacing:-0.250px;transform:scale(1,1.05);transform-origin:0 15.13px;">2620.00</span>
<span class="t" style="left:1597.30px;top:286.67px;color:#131722;font-size:14.8px;letter-spacing:-0.250px;transform:scale(1,1.05);transform-origin:0 15.13px;">2600.00</span>
<span class="t" style="left:1597.30px;top:372.87px;color:#131722;font-size:14.8px;letter-spacing:0.229px;transform:scale(1,1.05);transform-origin:0 15.13px;">0.00</span>
<span class="t" style="left:1597.30px;top:432.87px;color:#131722;font-size:14.8px;letter-spacing:-0.234px;transform:scale(1,1.05);transform-origin:0 15.13px;">−100.00</span>
<span class="t" style="left:1597.30px;top:472.17px;color:#131722;font-size:14.8px;letter-spacing:-0.308px;transform:scale(1,1.05);transform-origin:0 15.13px;">75.00</span>
<span class="t" style="left:1597.30px;top:516.77px;color:#131722;font-size:14.8px;letter-spacing:-0.308px;transform:scale(1,1.05);transform-origin:0 15.13px;">50.00</span>
<span class="t" style="left:1597.30px;top:562.97px;color:#131722;font-size:14.8px;letter-spacing:-0.308px;transform:scale(1,1.05);transform-origin:0 15.13px;">25.00</span>
<div class="clip">
<span class="t" style="left:9.95px;top:603.07px;color:#131722;font-size:14.8px;letter-spacing:-0.969px;transform:scale(1,1.05);transform-origin:0 15.13px;">22</span>
<span class="t" style="left:134.95px;top:603.07px;color:#131722;font-size:14.8px;letter-spacing:-0.969px;transform:scale(1,1.05);transform-origin:0 15.13px;">27</span>
<span class="t" style="left:241.45px;top:603.07px;color:#131722;font-size:14.8px;letter-spacing:-0.914px;transform:scale(1,1.0);transform-origin:0 15.13px;">Dec</span>
<span class="t" style="left:373.58px;top:603.07px;color:#131722;font-size:14.8px;transform:scale(1,1.05);transform-origin:0 15.13px;">5</span>
<span class="t" style="left:494.95px;top:603.07px;color:#131722;font-size:14.8px;letter-spacing:-0.969px;transform:scale(1,1.05);transform-origin:0 15.13px;">10</span>
<span class="t" style="left:612.95px;top:603.07px;color:#131722;font-size:14.8px;letter-spacing:-0.969px;transform:scale(1,1.05);transform-origin:0 15.13px;">13</span>
<span class="t" style="left:736.95px;top:603.07px;color:#131722;font-size:14.8px;letter-spacing:-0.969px;transform:scale(1,1.05);transform-origin:0 15.13px;">18</span>
<span class="t" style="left:854.95px;top:603.07px;color:#131722;font-size:14.8px;letter-spacing:-0.969px;transform:scale(1,1.05);transform-origin:0 15.13px;">22</span>
<span class="t" style="left:985.95px;top:603.07px;color:#131722;font-size:14.8px;letter-spacing:-0.969px;transform:scale(1,1.05);transform-origin:0 15.13px;">27</span>
<span class="t" style="left:1102.20px;top:603.07px;color:#131722;font-size:14.8px;letter-spacing:0.026px;font-weight:bold;transform:scale(1,1.05);transform-origin:0 15.13px;">2025</span>
<span class="t" style="left:1245.58px;top:603.07px;color:#131722;font-size:14.8px;transform:scale(1,1.05);transform-origin:0 15.13px;">7</span>
<span class="t" style="left:1359.95px;top:603.07px;color:#131722;font-size:14.8px;letter-spacing:-0.969px;transform:scale(1,1.05);transform-origin:0 15.13px;">10</span>
<span class="t" style="left:1483.95px;top:603.07px;color:#131722;font-size:14.8px;letter-spacing:-0.969px;transform:scale(1,1.05);transform-origin:0 15.13px;">15</span>
</div>
<div class="lb" style="left:1587px;top:85.2px;width:70.3px;height:20.4px;background:#089981"></div>
<div class="lb" style="left:1587px;top:359px;width:53.9px;height:20.8px;background:#2196f3"></div>
<div class="lb" style="left:1587px;top:491.1px;width:53.9px;height:20.5px;background:#7e57c2"></div>
<span class="t" style="left:1596.90px;top:85.87px;color:#fff;font-size:14.8px;letter-spacing:-0.150px;-webkit-text-stroke:0.35px #fff;transform:scale(1,1.05);transform-origin:0 15.13px;">2692.91</span>
<span class="t" style="left:1596.90px;top:359.87px;color:#fff;font-size:14.8px;letter-spacing:0.142px;-webkit-text-stroke:0.35px #fff;transform:scale(1,1.05);transform-origin:0 15.13px;">23.09</span>
<span class="t" style="left:1596.90px;top:491.77px;color:#fff;font-size:14.8px;letter-spacing:0.142px;-webkit-text-stroke:0.35px #fff;transform:scale(1,1.05);transform-origin:0 15.13px;">64.41</span>
<span class="t" style="left:23.00px;top:22.57px;color:#131722;font-size:14.8px;letter-spacing:-0.114px;transform:scale(1,1.0);transform-origin:0 15.13px;">Gold US Dollars per Ounce Spot Prices, 4h</span>
<span class="t" style="left:312.20px;top:22.57px;color:#131722;font-size:14.8px;transform:scale(0.9,1.0);transform-origin:0 15.13px;">O</span>
<span class="t" style="left:323.00px;top:22.57px;color:#089981;font-size:14.8px;letter-spacing:-0.283px;transform:scale(1,1.05);transform-origin:0 15.13px;">2678.67</span>
<span class="t" style="left:384.40px;top:22.57px;color:#131722;font-size:14.8px;transform:scale(0.93,1.0);transform-origin:0 15.13px;">H</span>
<span class="t" style="left:394.50px;top:22.57px;color:#089981;font-size:14.8px;letter-spacing:-0.350px;transform:scale(1,1.05);transform-origin:0 15.13px;">2693.01</span>
<span class="t" style="left:455.90px;top:22.57px;color:#131722;font-size:14.8px;transform:scale(0.95,1.0);transform-origin:0 15.13px;">L</span>
<span class="t" style="left:464.10px;top:22.57px;color:#089981;font-size:14.8px;letter-spacing:-0.167px;transform:scale(1,1.05);transform-origin:0 15.13px;">2677.08</span>
<span class="t" style="left:524.50px;top:22.57px;color:#131722;font-size:14.8px;transform:scale(0.92,1.0);transform-origin:0 15.13px;">C</span>
<span class="t" style="left:534.60px;top:22.57px;color:#089981;font-size:14.8px;letter-spacing:-0.317px;transform:scale(1,1.05);transform-origin:0 15.13px;">2692.91</span>
<span class="t" style="left:596.30px;top:22.57px;color:#089981;font-size:14.8px;letter-spacing:-0.288px;transform:scale(1,1.05);transform-origin:0 15.13px;">+14.34 (+0.54%)</span>
<span class="t" style="left:23.00px;top:43.67px;color:#131722;font-size:14.8px;letter-spacing:0.061px;transform:scale(1,1.0);transform-origin:0 15.13px;">MA (20, close, 0)</span>
<span class="t" style="left:23.00px;top:64.67px;color:#131722;font-size:14.8px;letter-spacing:0.044px;transform:scale(1,1.0);transform-origin:0 15.13px;">MA (100, close, 0)</span>
<span class="t" style="left:23.00px;top:85.67px;color:#131722;font-size:14.8px;letter-spacing:0.044px;transform:scale(1,1.0);transform-origin:0 15.13px;">MA (200, close, 0)</span>
<span class="t" style="left:23.00px;top:106.67px;color:#131722;font-size:14.8px;letter-spacing:0.061px;transform:scale(1,1.0);transform-origin:0 15.13px;">MA (55, close, 0)</span>
<span class="t" style="left:23.00px;top:347.27px;color:#131722;font-size:14.8px;letter-spacing:0.030px;transform:scale(1,1.0);transform-origin:0 15.13px;">Mom (10, close)</span>
<span class="t" style="left:138.60px;top:347.27px;color:#2196f3;font-size:14.8px;letter-spacing:0.117px;transform:scale(1,1.05);transform-origin:0 15.13px;">23.09</span>
<span class="t" style="left:23.20px;top:460.17px;color:#131722;font-size:14.8px;letter-spacing:-0.499px;transform:scale(1,1.0);transform-origin:0 15.13px;">RSI (14)</span>
<span class="t" style="left:83.00px;top:460.17px;color:#7e57c2;font-size:14.8px;letter-spacing:0.092px;transform:scale(1,1.05);transform-origin:0 15.13px;">64.41</span>
<span class="t" style="left:42.30px;top:642.74px;color:#1e222d;font-size:14.9px;letter-spacing:0.545px;-webkit-text-stroke:0.25px #1e222d;transform:scale(1,1.0);transform-origin:0 15.16px;">TradingView</span>
</body></html>
